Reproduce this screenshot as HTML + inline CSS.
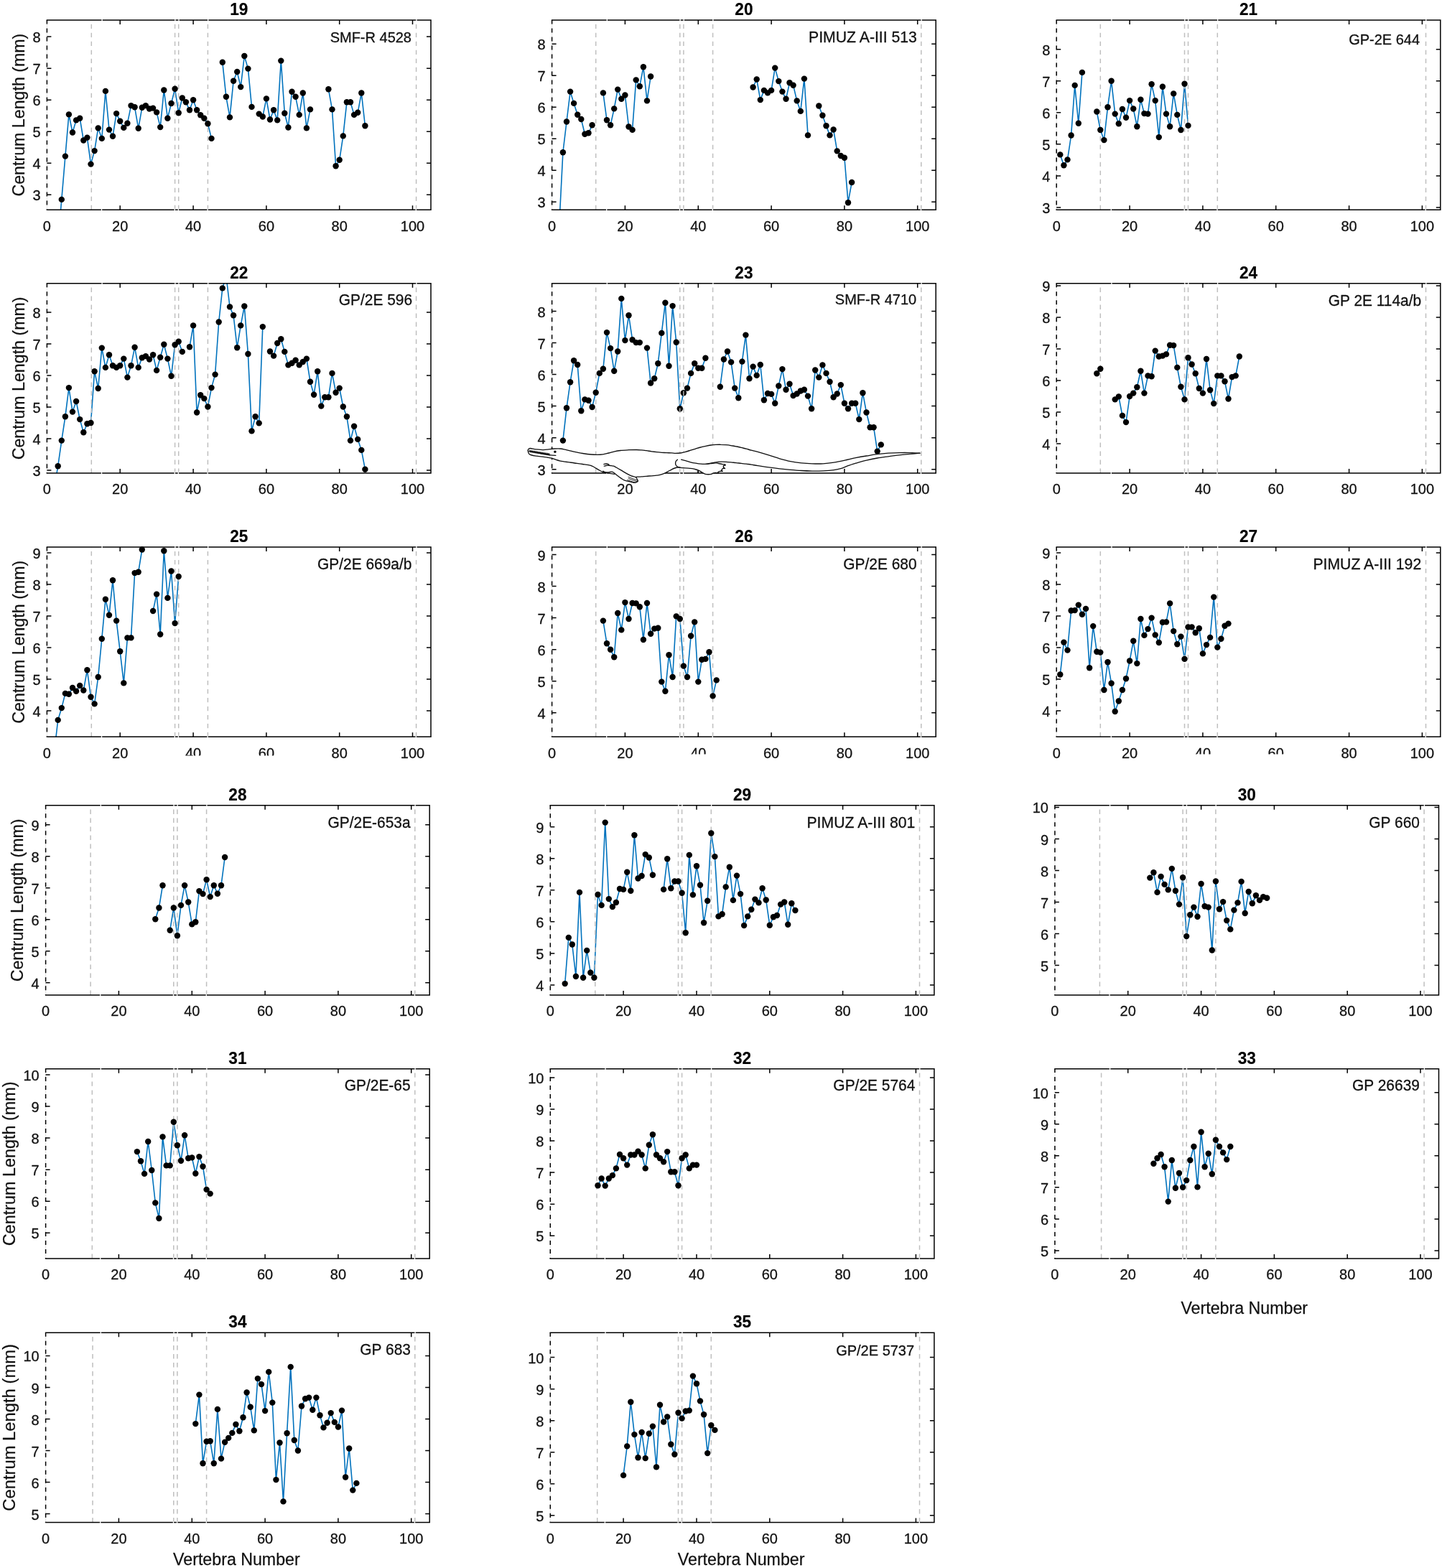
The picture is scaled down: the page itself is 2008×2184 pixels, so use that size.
<!DOCTYPE html>
<html lang="en"><head><meta charset="utf-8"><title>Centrum length per vertebra</title>
<style>html,body{margin:0;padding:0;background:#fff}body{width:2008px;height:2184px;overflow:hidden}svg{display:block}text{font-family:"Liberation Sans",Arial,Helvetica,sans-serif;fill:#111;stroke:#111;stroke-width:0.3px;stroke-linejoin:round}.t{font-size:20.8px}.tt{font-size:23.5px;font-weight:bold;fill:#000;stroke:#000;stroke-width:0.2px}.l{font-size:24.13px;stroke-width:0.25px}.d{fill:none;stroke:#0072BD;stroke-width:1.6;stroke-linejoin:round}.g{fill:none;stroke:#bfbfbf;stroke-width:1.5;stroke-dasharray:6.3 5.7;stroke-dashoffset:6.2}.a{fill:none;stroke:#000;stroke-width:1.5}.ad{fill:none;stroke:#000;stroke-width:1.5;stroke-dasharray:6 6;stroke-dashoffset:0.6}.n{fill:none;stroke:#fff;stroke-width:1.3}.m{fill:#000}</style></head><body>
<svg width="2008" height="2184" viewBox="0 0 2008 2184" role="img" aria-label="Centrum length against vertebra number for specimens 19 to 35">
<rect width="2008" height="2184" fill="#fff"/>
<clipPath id="c19"><rect x="65.4" y="28" width="534.6" height="264.2"/></clipPath><g clip-path="url(#c19)"><path class="d" d="M80.7 337.3L85.8 277.9L90.9 217.6L95.9 159.4L101 184.5L106.1 167.4L111.2 164.7L116.3 195.5L121.4 191.6L126.5 228.6L131.6 210.1L136.7 178.4L141.8 192.9L146.9 126.9L152 180.6L157 189.8L162.1 158.1L167.2 168.7L172.3 177.9L177.4 171.8L182.5 147.1L187.6 149.3L192.7 178.8L197.8 149.8L202.9 147.1L208 151.5L213.1 150.6L218.1 156.4L223.2 177.1L228.3 125.5L233.4 164.7L238.5 144L243.6 123.8L248.7 157.2L253.8 136.5L258.9 142.3L264 153.3L269.1 139.2L274.1 153.3L279.2 160.3L284.3 164.7L289.4 172.2L294.5 192.9M309.8 86.8L314.9 134.8L320 163.4L325.1 112.8L330.2 100L335.2 121.1L340.3 78L345.4 95.6L350.5 148.9M360.7 158.6L365.8 162.5L370.9 137.4L376 166.5L381.1 153.3L386.2 167.4L391.3 84.6L396.3 157.7L401.4 177.5L406.5 127.7L411.6 134.8L416.7 159.9L421.8 129.5L426.9 178.4L432 152.4M457.4 124.2L462.5 152.4L467.6 231.2L472.7 222.8L477.8 189.4L482.9 142.3L488 142.3L493.1 159.9L498.2 156.8L503.3 129.5L508.4 175.3"/></g><path class="g" d="M127.3 28V292.2M243.6 28V292.2M248.7 28V292.2M289.4 28V292.2M579.6 28V292.2"/><g class="m"><circle cx="85.8" cy="277.9" r="4.2"/><circle cx="90.9" cy="217.6" r="4.2"/><circle cx="95.9" cy="159.4" r="4.2"/><circle cx="101" cy="184.5" r="4.2"/><circle cx="106.1" cy="167.4" r="4.2"/><circle cx="111.2" cy="164.7" r="4.2"/><circle cx="116.3" cy="195.5" r="4.2"/><circle cx="121.4" cy="191.6" r="4.2"/><circle cx="126.5" cy="228.6" r="4.2"/><circle cx="131.6" cy="210.1" r="4.2"/><circle cx="136.7" cy="178.4" r="4.2"/><circle cx="141.8" cy="192.9" r="4.2"/><circle cx="146.9" cy="126.9" r="4.2"/><circle cx="152" cy="180.6" r="4.2"/><circle cx="157" cy="189.8" r="4.2"/><circle cx="162.1" cy="158.1" r="4.2"/><circle cx="167.2" cy="168.7" r="4.2"/><circle cx="172.3" cy="177.9" r="4.2"/><circle cx="177.4" cy="171.8" r="4.2"/><circle cx="182.5" cy="147.1" r="4.2"/><circle cx="187.6" cy="149.3" r="4.2"/><circle cx="192.7" cy="178.8" r="4.2"/><circle cx="197.8" cy="149.8" r="4.2"/><circle cx="202.9" cy="147.1" r="4.2"/><circle cx="208" cy="151.5" r="4.2"/><circle cx="213.1" cy="150.6" r="4.2"/><circle cx="218.1" cy="156.4" r="4.2"/><circle cx="223.2" cy="177.1" r="4.2"/><circle cx="228.3" cy="125.5" r="4.2"/><circle cx="233.4" cy="164.7" r="4.2"/><circle cx="238.5" cy="144" r="4.2"/><circle cx="243.6" cy="123.8" r="4.2"/><circle cx="248.7" cy="157.2" r="4.2"/><circle cx="253.8" cy="136.5" r="4.2"/><circle cx="258.9" cy="142.3" r="4.2"/><circle cx="264" cy="153.3" r="4.2"/><circle cx="269.1" cy="139.2" r="4.2"/><circle cx="274.1" cy="153.3" r="4.2"/><circle cx="279.2" cy="160.3" r="4.2"/><circle cx="284.3" cy="164.7" r="4.2"/><circle cx="289.4" cy="172.2" r="4.2"/><circle cx="294.5" cy="192.9" r="4.2"/><circle cx="309.8" cy="86.8" r="4.2"/><circle cx="314.9" cy="134.8" r="4.2"/><circle cx="320" cy="163.4" r="4.2"/><circle cx="325.1" cy="112.8" r="4.2"/><circle cx="330.2" cy="100" r="4.2"/><circle cx="335.2" cy="121.1" r="4.2"/><circle cx="340.3" cy="78" r="4.2"/><circle cx="345.4" cy="95.6" r="4.2"/><circle cx="350.5" cy="148.9" r="4.2"/><circle cx="360.7" cy="158.6" r="4.2"/><circle cx="365.8" cy="162.5" r="4.2"/><circle cx="370.9" cy="137.4" r="4.2"/><circle cx="376" cy="166.5" r="4.2"/><circle cx="381.1" cy="153.3" r="4.2"/><circle cx="386.2" cy="167.4" r="4.2"/><circle cx="391.3" cy="84.6" r="4.2"/><circle cx="396.3" cy="157.7" r="4.2"/><circle cx="401.4" cy="177.5" r="4.2"/><circle cx="406.5" cy="127.7" r="4.2"/><circle cx="411.6" cy="134.8" r="4.2"/><circle cx="416.7" cy="159.9" r="4.2"/><circle cx="421.8" cy="129.5" r="4.2"/><circle cx="426.9" cy="178.4" r="4.2"/><circle cx="432" cy="152.4" r="4.2"/><circle cx="457.4" cy="124.2" r="4.2"/><circle cx="462.5" cy="152.4" r="4.2"/><circle cx="467.6" cy="231.2" r="4.2"/><circle cx="472.7" cy="222.8" r="4.2"/><circle cx="477.8" cy="189.4" r="4.2"/><circle cx="482.9" cy="142.3" r="4.2"/><circle cx="488" cy="142.3" r="4.2"/><circle cx="493.1" cy="159.9" r="4.2"/><circle cx="498.2" cy="156.8" r="4.2"/><circle cx="503.3" cy="129.5" r="4.2"/><circle cx="508.4" cy="175.3" r="4.2"/></g><path class="a" d="M64.7 28H600V292.2H64.7"/><path d="M65.4 28V292.2" stroke="#ccc" stroke-width="0.5" fill="none"/><path class="ad" d="M65.4 28V292.2"/><path class="a" d="M167.2 292.2v-6M167.2 28v6M269.1 292.2v-6M269.1 28v6M370.9 292.2v-6M370.9 28v6M472.7 292.2v-6M472.7 28v6M574.5 292.2v-6M574.5 28v6M65.4 271.3h6M600 271.3h-6M65.4 227.3h6M600 227.3h-6M65.4 183.2h6M600 183.2h-6M65.4 139.2h6M600 139.2h-6M65.4 95.2h6M600 95.2h-6M65.4 51.1h6M600 51.1h-6"/><path class="n" d="M142.1 26.4v3.2M141.5 290.6v3.2M243.9 26.4v3.2M243.3 290.6v3.2M249 26.4v3.2M248.4 290.6v3.2M289.7 26.4v3.2M289.1 290.6v3.2M579.9 26.4v3.2M579.3 290.6v3.2"/><text class="t" transform="translate(65.4 321.5) scale(0.962 1)" text-anchor="middle">0</text><text class="t" transform="translate(167.2 321.5) scale(0.962 1)" text-anchor="middle">20</text><text class="t" transform="translate(269.1 321.5) scale(0.962 1)" text-anchor="middle">40</text><text class="t" transform="translate(370.9 321.5) scale(0.962 1)" text-anchor="middle">60</text><text class="t" transform="translate(472.7 321.5) scale(0.962 1)" text-anchor="middle">80</text><text class="t" transform="translate(574.5 321.5) scale(0.962 1)" text-anchor="middle">100</text><text class="t" transform="translate(56.5 279.3) scale(0.962 1)" text-anchor="end">3</text><text class="t" transform="translate(56.5 235.3) scale(0.962 1)" text-anchor="end">4</text><text class="t" transform="translate(56.5 191.2) scale(0.962 1)" text-anchor="end">5</text><text class="t" transform="translate(56.5 147.2) scale(0.962 1)" text-anchor="end">6</text><text class="t" transform="translate(56.5 103.2) scale(0.962 1)" text-anchor="end">7</text><text class="t" transform="translate(56.5 59.1) scale(0.962 1)" text-anchor="end">8</text><text class="tt" transform="translate(332.7 20.8) scale(0.962 1)" text-anchor="middle">19</text><text class="t" transform="translate(573 59) scale(0.962 1)" text-anchor="end">SMF-R 4528</text><text class="l" transform="translate(34.3 160.1) rotate(-90) scale(0.962 1)" text-anchor="middle">Centrum Length (mm)</text>
<clipPath id="c20"><rect x="768.6" y="28" width="534.6" height="264.2"/></clipPath><g clip-path="url(#c20)"><path class="d" d="M778.8 312.1L783.9 212.2L789 169.5L794.1 127.6L799.1 143.9L804.2 159.8L809.3 166L814.4 186.7L819.5 185.3L824.6 174.3M839.9 129.4L845 167.3L850.1 174.3L855.2 151.4L860.2 124.6L865.3 137.8L870.4 132.5L875.5 176.5L880.6 180.9L885.7 111.4L890.8 120.2L895.9 93.3L901 140.4L906.1 106.5M1048.6 121.5L1053.7 110.5L1058.8 139.1L1063.9 125.9L1069 129.4L1074.1 125.9L1079.2 94.6L1084.3 113.1L1089.4 127.6L1094.5 137.8L1099.5 115.3L1104.6 118.8L1109.7 140.4L1114.8 154.9L1119.9 109.6L1125 188.4M1140.3 147.5L1145.4 160.7L1150.5 175.2L1155.5 188.4L1160.6 180.5L1165.7 210.4L1170.8 217L1175.9 219.7L1181 282.2L1186.1 254"/></g><path class="g" d="M829.7 28V292.2M946.8 28V292.2M951.9 28V292.2M992.6 28V292.2M1282.8 28V292.2"/><g class="m"><circle cx="783.9" cy="212.2" r="4.2"/><circle cx="789" cy="169.5" r="4.2"/><circle cx="794.1" cy="127.6" r="4.2"/><circle cx="799.1" cy="143.9" r="4.2"/><circle cx="804.2" cy="159.8" r="4.2"/><circle cx="809.3" cy="166" r="4.2"/><circle cx="814.4" cy="186.7" r="4.2"/><circle cx="819.5" cy="185.3" r="4.2"/><circle cx="824.6" cy="174.3" r="4.2"/><circle cx="839.9" cy="129.4" r="4.2"/><circle cx="845" cy="167.3" r="4.2"/><circle cx="850.1" cy="174.3" r="4.2"/><circle cx="855.2" cy="151.4" r="4.2"/><circle cx="860.2" cy="124.6" r="4.2"/><circle cx="865.3" cy="137.8" r="4.2"/><circle cx="870.4" cy="132.5" r="4.2"/><circle cx="875.5" cy="176.5" r="4.2"/><circle cx="880.6" cy="180.9" r="4.2"/><circle cx="885.7" cy="111.4" r="4.2"/><circle cx="890.8" cy="120.2" r="4.2"/><circle cx="895.9" cy="93.3" r="4.2"/><circle cx="901" cy="140.4" r="4.2"/><circle cx="906.1" cy="106.5" r="4.2"/><circle cx="1048.6" cy="121.5" r="4.2"/><circle cx="1053.7" cy="110.5" r="4.2"/><circle cx="1058.8" cy="139.1" r="4.2"/><circle cx="1063.9" cy="125.9" r="4.2"/><circle cx="1069" cy="129.4" r="4.2"/><circle cx="1074.1" cy="125.9" r="4.2"/><circle cx="1079.2" cy="94.6" r="4.2"/><circle cx="1084.3" cy="113.1" r="4.2"/><circle cx="1089.4" cy="127.6" r="4.2"/><circle cx="1094.5" cy="137.8" r="4.2"/><circle cx="1099.5" cy="115.3" r="4.2"/><circle cx="1104.6" cy="118.8" r="4.2"/><circle cx="1109.7" cy="140.4" r="4.2"/><circle cx="1114.8" cy="154.9" r="4.2"/><circle cx="1119.9" cy="109.6" r="4.2"/><circle cx="1125" cy="188.4" r="4.2"/><circle cx="1140.3" cy="147.5" r="4.2"/><circle cx="1145.4" cy="160.7" r="4.2"/><circle cx="1150.5" cy="175.2" r="4.2"/><circle cx="1155.5" cy="188.4" r="4.2"/><circle cx="1160.6" cy="180.5" r="4.2"/><circle cx="1165.7" cy="210.4" r="4.2"/><circle cx="1170.8" cy="217" r="4.2"/><circle cx="1175.9" cy="219.7" r="4.2"/><circle cx="1181" cy="282.2" r="4.2"/><circle cx="1186.1" cy="254" r="4.2"/></g><path class="a" d="M767.9 28H1303.2V292.2H767.9"/><path d="M768.6 28V292.2" stroke="#ccc" stroke-width="0.5" fill="none"/><path class="ad" d="M768.6 28V292.2"/><path class="a" d="M870.4 292.2v-6M870.4 28v6M972.3 292.2v-6M972.3 28v6M1074.1 292.2v-6M1074.1 28v6M1175.9 292.2v-6M1175.9 28v6M1277.7 292.2v-6M1277.7 28v6M768.6 281.3h6M1303.2 281.3h-6M768.6 237.3h6M1303.2 237.3h-6M768.6 193.3h6M1303.2 193.3h-6M768.6 149.2h6M1303.2 149.2h-6M768.6 105.2h6M1303.2 105.2h-6M768.6 61.2h6M1303.2 61.2h-6"/><path class="n" d="M845.3 26.4v3.2M844.7 290.6v3.2M947.1 26.4v3.2M946.5 290.6v3.2M952.2 26.4v3.2M951.6 290.6v3.2M992.9 26.4v3.2M992.3 290.6v3.2M1283.1 26.4v3.2M1282.5 290.6v3.2"/><text class="t" transform="translate(768.6 321.5) scale(0.962 1)" text-anchor="middle">0</text><text class="t" transform="translate(870.4 321.5) scale(0.962 1)" text-anchor="middle">20</text><text class="t" transform="translate(972.3 321.5) scale(0.962 1)" text-anchor="middle">40</text><text class="t" transform="translate(1074.1 321.5) scale(0.962 1)" text-anchor="middle">60</text><text class="t" transform="translate(1175.9 321.5) scale(0.962 1)" text-anchor="middle">80</text><text class="t" transform="translate(1277.7 321.5) scale(0.962 1)" text-anchor="middle">100</text><text class="t" transform="translate(759.7 289.3) scale(0.962 1)" text-anchor="end">3</text><text class="t" transform="translate(759.7 245.3) scale(0.962 1)" text-anchor="end">4</text><text class="t" transform="translate(759.7 201.3) scale(0.962 1)" text-anchor="end">5</text><text class="t" transform="translate(759.7 157.2) scale(0.962 1)" text-anchor="end">6</text><text class="t" transform="translate(759.7 113.2) scale(0.962 1)" text-anchor="end">7</text><text class="t" transform="translate(759.7 69.2) scale(0.962 1)" text-anchor="end">8</text><text class="tt" transform="translate(1035.9 20.8) scale(0.962 1)" text-anchor="middle">20</text><text class="t" style="font-size:22.05px" transform="translate(1276.9 58.7) scale(0.962 1)" text-anchor="end">PIMUZ A-III 513</text>
<clipPath id="c21"><rect x="1471.2" y="28" width="534.6" height="264.2"/></clipPath><g clip-path="url(#c21)"><path class="d" d="M1476.3 215.4L1481.4 230.3L1486.5 222.4L1491.6 188.5L1496.7 118.9L1501.8 171.8L1506.9 100.9M1527.3 155.5L1532.3 181L1537.4 195.1L1542.5 149.3L1547.6 112.8L1552.7 158.6L1557.8 172.2L1562.9 152L1568 163.8L1573.1 140.1L1578.2 151.5L1583.3 176.2L1588.4 138.7L1593.4 158.1L1598.5 158.6L1603.6 117.2L1608.7 140.1L1613.8 191.1L1618.9 120.7L1624 158.6L1629.1 176.2L1634.2 130.4L1639.3 159.9L1644.4 181L1649.5 116.7L1654.5 174.9"/></g><path class="g" d="M1532.3 28V292.2M1649.5 28V292.2M1654.5 28V292.2M1695.3 28V292.2M1985.5 28V292.2"/><g class="m"><circle cx="1476.3" cy="215.4" r="4.2"/><circle cx="1481.4" cy="230.3" r="4.2"/><circle cx="1486.5" cy="222.4" r="4.2"/><circle cx="1491.6" cy="188.5" r="4.2"/><circle cx="1496.7" cy="118.9" r="4.2"/><circle cx="1501.8" cy="171.8" r="4.2"/><circle cx="1506.9" cy="100.9" r="4.2"/><circle cx="1527.3" cy="155.5" r="4.2"/><circle cx="1532.3" cy="181" r="4.2"/><circle cx="1537.4" cy="195.1" r="4.2"/><circle cx="1542.5" cy="149.3" r="4.2"/><circle cx="1547.6" cy="112.8" r="4.2"/><circle cx="1552.7" cy="158.6" r="4.2"/><circle cx="1557.8" cy="172.2" r="4.2"/><circle cx="1562.9" cy="152" r="4.2"/><circle cx="1568" cy="163.8" r="4.2"/><circle cx="1573.1" cy="140.1" r="4.2"/><circle cx="1578.2" cy="151.5" r="4.2"/><circle cx="1583.3" cy="176.2" r="4.2"/><circle cx="1588.4" cy="138.7" r="4.2"/><circle cx="1593.4" cy="158.1" r="4.2"/><circle cx="1598.5" cy="158.6" r="4.2"/><circle cx="1603.6" cy="117.2" r="4.2"/><circle cx="1608.7" cy="140.1" r="4.2"/><circle cx="1613.8" cy="191.1" r="4.2"/><circle cx="1618.9" cy="120.7" r="4.2"/><circle cx="1624" cy="158.6" r="4.2"/><circle cx="1629.1" cy="176.2" r="4.2"/><circle cx="1634.2" cy="130.4" r="4.2"/><circle cx="1639.3" cy="159.9" r="4.2"/><circle cx="1644.4" cy="181" r="4.2"/><circle cx="1649.5" cy="116.7" r="4.2"/><circle cx="1654.5" cy="174.9" r="4.2"/></g><path class="a" d="M1470.5 28H2005.8V292.2H1470.5"/><path d="M1471.2 28V292.2" stroke="#ccc" stroke-width="0.5" fill="none"/><path class="ad" d="M1471.2 28V292.2"/><path class="a" d="M1573.1 292.2v-6M1573.1 28v6M1674.9 292.2v-6M1674.9 28v6M1776.7 292.2v-6M1776.7 28v6M1878.6 292.2v-6M1878.6 28v6M1980.4 292.2v-6M1980.4 28v6M1471.2 288.9h6M2005.8 288.9h-6M1471.2 244.9h6M2005.8 244.9h-6M1471.2 200.8h6M2005.8 200.8h-6M1471.2 156.8h6M2005.8 156.8h-6M1471.2 112.8h6M2005.8 112.8h-6M1471.2 68.7h6M2005.8 68.7h-6"/><path class="n" d="M1547.9 26.4v3.2M1547.3 290.6v3.2M1649.8 26.4v3.2M1649.2 290.6v3.2M1654.8 26.4v3.2M1654.2 290.6v3.2M1695.6 26.4v3.2M1695 290.6v3.2M1985.8 26.4v3.2M1985.2 290.6v3.2"/><text class="t" transform="translate(1471.2 321.5) scale(0.962 1)" text-anchor="middle">0</text><text class="t" transform="translate(1573.1 321.5) scale(0.962 1)" text-anchor="middle">20</text><text class="t" transform="translate(1674.9 321.5) scale(0.962 1)" text-anchor="middle">40</text><text class="t" transform="translate(1776.7 321.5) scale(0.962 1)" text-anchor="middle">60</text><text class="t" transform="translate(1878.6 321.5) scale(0.962 1)" text-anchor="middle">80</text><text class="t" transform="translate(1980.4 321.5) scale(0.962 1)" text-anchor="middle">100</text><text class="t" transform="translate(1462.3 296.9) scale(0.962 1)" text-anchor="end">3</text><text class="t" transform="translate(1462.3 252.9) scale(0.962 1)" text-anchor="end">4</text><text class="t" transform="translate(1462.3 208.8) scale(0.962 1)" text-anchor="end">5</text><text class="t" transform="translate(1462.3 164.8) scale(0.962 1)" text-anchor="end">6</text><text class="t" transform="translate(1462.3 120.8) scale(0.962 1)" text-anchor="end">7</text><text class="t" transform="translate(1462.3 76.7) scale(0.962 1)" text-anchor="end">8</text><text class="tt" transform="translate(1738.5 20.8) scale(0.962 1)" text-anchor="middle">21</text><text class="t" transform="translate(1977.1 62.2) scale(0.962 1)" text-anchor="end">GP-2E 644</text>
<clipPath id="c22"><rect x="65.4" y="394.8" width="534.6" height="264.2"/></clipPath><g clip-path="url(#c22)"><path class="d" d="M75.6 679.3L80.7 649.3L85.8 613.6L90.9 580.2L95.9 540.1L101 573.6L106.1 559L111.2 584.1L116.3 602.2L121.4 590.3L126.5 589L131.6 517.2L136.7 541L141.8 484.6L146.9 511.9L152 494.3L157 509.3L162.1 511.9L167.2 509.3L172.3 499.6L177.4 525.6L182.5 509.3L187.6 483.7L192.7 511.9L197.8 498.3L202.9 496.1L208 500.5L213.1 494.3L218.1 515.9L223.2 497.8L228.3 479.8L233.4 499.6L238.5 523.8L243.6 480.2L248.7 475.8L253.8 489.9M264 483.3L269.1 453.4L274.1 574.5L279.2 550.2L284.3 555.1L289.4 566.5L294.5 540.1L299.6 521.6L304.7 448.5L309.8 401.4L314.9 384.2L320 427.4L325.1 439.3L330.2 484.2L335.2 453.4L340.3 426.5L345.4 493L350.5 600.4L355.6 580.2L360.7 589.4L365.8 455.1M376 489.5L381.1 495.6L386.2 478L391.3 472.3L396.3 489.9L401.4 508.4L406.5 505.8L411.6 501.8L416.7 508.4L421.8 504L426.9 499.6L432 531.7L437.1 549.8L442.2 517.2L447.3 565.6L452.3 553.3L457.4 553.3L462.5 519.9L467.6 546.7L472.7 540.6L477.8 566.5L482.9 580.2L488 613.6L493.1 593.8L498.2 611.9L503.3 626.9L508.4 653.7"/></g><path class="g" d="M127.3 394.8V659M243.6 394.8V659M248.7 394.8V659M289.4 394.8V659M579.6 394.8V659"/><g class="m"><circle cx="80.7" cy="649.3" r="4.2"/><circle cx="85.8" cy="613.6" r="4.2"/><circle cx="90.9" cy="580.2" r="4.2"/><circle cx="95.9" cy="540.1" r="4.2"/><circle cx="101" cy="573.6" r="4.2"/><circle cx="106.1" cy="559" r="4.2"/><circle cx="111.2" cy="584.1" r="4.2"/><circle cx="116.3" cy="602.2" r="4.2"/><circle cx="121.4" cy="590.3" r="4.2"/><circle cx="126.5" cy="589" r="4.2"/><circle cx="131.6" cy="517.2" r="4.2"/><circle cx="136.7" cy="541" r="4.2"/><circle cx="141.8" cy="484.6" r="4.2"/><circle cx="146.9" cy="511.9" r="4.2"/><circle cx="152" cy="494.3" r="4.2"/><circle cx="157" cy="509.3" r="4.2"/><circle cx="162.1" cy="511.9" r="4.2"/><circle cx="167.2" cy="509.3" r="4.2"/><circle cx="172.3" cy="499.6" r="4.2"/><circle cx="177.4" cy="525.6" r="4.2"/><circle cx="182.5" cy="509.3" r="4.2"/><circle cx="187.6" cy="483.7" r="4.2"/><circle cx="192.7" cy="511.9" r="4.2"/><circle cx="197.8" cy="498.3" r="4.2"/><circle cx="202.9" cy="496.1" r="4.2"/><circle cx="208" cy="500.5" r="4.2"/><circle cx="213.1" cy="494.3" r="4.2"/><circle cx="218.1" cy="515.9" r="4.2"/><circle cx="223.2" cy="497.8" r="4.2"/><circle cx="228.3" cy="479.8" r="4.2"/><circle cx="233.4" cy="499.6" r="4.2"/><circle cx="238.5" cy="523.8" r="4.2"/><circle cx="243.6" cy="480.2" r="4.2"/><circle cx="248.7" cy="475.8" r="4.2"/><circle cx="253.8" cy="489.9" r="4.2"/><circle cx="264" cy="483.3" r="4.2"/><circle cx="269.1" cy="453.4" r="4.2"/><circle cx="274.1" cy="574.5" r="4.2"/><circle cx="279.2" cy="550.2" r="4.2"/><circle cx="284.3" cy="555.1" r="4.2"/><circle cx="289.4" cy="566.5" r="4.2"/><circle cx="294.5" cy="540.1" r="4.2"/><circle cx="299.6" cy="521.6" r="4.2"/><circle cx="304.7" cy="448.5" r="4.2"/><circle cx="309.8" cy="401.4" r="4.2"/><circle cx="320" cy="427.4" r="4.2"/><circle cx="325.1" cy="439.3" r="4.2"/><circle cx="330.2" cy="484.2" r="4.2"/><circle cx="335.2" cy="453.4" r="4.2"/><circle cx="340.3" cy="426.5" r="4.2"/><circle cx="345.4" cy="493" r="4.2"/><circle cx="350.5" cy="600.4" r="4.2"/><circle cx="355.6" cy="580.2" r="4.2"/><circle cx="360.7" cy="589.4" r="4.2"/><circle cx="365.8" cy="455.1" r="4.2"/><circle cx="376" cy="489.5" r="4.2"/><circle cx="381.1" cy="495.6" r="4.2"/><circle cx="386.2" cy="478" r="4.2"/><circle cx="391.3" cy="472.3" r="4.2"/><circle cx="396.3" cy="489.9" r="4.2"/><circle cx="401.4" cy="508.4" r="4.2"/><circle cx="406.5" cy="505.8" r="4.2"/><circle cx="411.6" cy="501.8" r="4.2"/><circle cx="416.7" cy="508.4" r="4.2"/><circle cx="421.8" cy="504" r="4.2"/><circle cx="426.9" cy="499.6" r="4.2"/><circle cx="432" cy="531.7" r="4.2"/><circle cx="437.1" cy="549.8" r="4.2"/><circle cx="442.2" cy="517.2" r="4.2"/><circle cx="447.3" cy="565.6" r="4.2"/><circle cx="452.3" cy="553.3" r="4.2"/><circle cx="457.4" cy="553.3" r="4.2"/><circle cx="462.5" cy="519.9" r="4.2"/><circle cx="467.6" cy="546.7" r="4.2"/><circle cx="472.7" cy="540.6" r="4.2"/><circle cx="477.8" cy="566.5" r="4.2"/><circle cx="482.9" cy="580.2" r="4.2"/><circle cx="488" cy="613.6" r="4.2"/><circle cx="493.1" cy="593.8" r="4.2"/><circle cx="498.2" cy="611.9" r="4.2"/><circle cx="503.3" cy="626.9" r="4.2"/><circle cx="508.4" cy="653.7" r="4.2"/></g><path class="a" d="M64.7 394.8H600V659H64.7"/><path d="M65.4 394.8V659" stroke="#ccc" stroke-width="0.5" fill="none"/><path class="ad" d="M65.4 394.8V659"/><path class="a" d="M167.2 659v-6M167.2 394.8v6M269.1 659v-6M269.1 394.8v6M370.9 659v-6M370.9 394.8v6M472.7 659v-6M472.7 394.8v6M574.5 659v-6M574.5 394.8v6M65.4 655h6M600 655h-6M65.4 611h6M600 611h-6M65.4 567h6M600 567h-6M65.4 522.9h6M600 522.9h-6M65.4 478.9h6M600 478.9h-6M65.4 434.9h6M600 434.9h-6"/><path class="n" d="M142.1 393.2v3.2M141.5 657.4v3.2M243.9 393.2v3.2M243.3 657.4v3.2M249 393.2v3.2M248.4 657.4v3.2M289.7 393.2v3.2M289.1 657.4v3.2M579.9 393.2v3.2M579.3 657.4v3.2"/><text class="t" transform="translate(65.4 688.3) scale(0.962 1)" text-anchor="middle">0</text><text class="t" transform="translate(167.2 688.3) scale(0.962 1)" text-anchor="middle">20</text><text class="t" transform="translate(269.1 688.3) scale(0.962 1)" text-anchor="middle">40</text><text class="t" transform="translate(370.9 688.3) scale(0.962 1)" text-anchor="middle">60</text><text class="t" transform="translate(472.7 688.3) scale(0.962 1)" text-anchor="middle">80</text><text class="t" transform="translate(574.5 688.3) scale(0.962 1)" text-anchor="middle">100</text><text class="t" transform="translate(56.5 663) scale(0.962 1)" text-anchor="end">3</text><text class="t" transform="translate(56.5 619) scale(0.962 1)" text-anchor="end">4</text><text class="t" transform="translate(56.5 575) scale(0.962 1)" text-anchor="end">5</text><text class="t" transform="translate(56.5 530.9) scale(0.962 1)" text-anchor="end">6</text><text class="t" transform="translate(56.5 486.9) scale(0.962 1)" text-anchor="end">7</text><text class="t" transform="translate(56.5 442.9) scale(0.962 1)" text-anchor="end">8</text><text class="tt" transform="translate(332.7 387.6) scale(0.962 1)" text-anchor="middle">22</text><text class="t" style="font-size:21.74px" transform="translate(574.1 425.4) scale(0.962 1)" text-anchor="end">GP/2E 596</text><text class="l" transform="translate(34.3 526.9) rotate(-90) scale(0.962 1)" text-anchor="middle">Centrum Length (mm)</text>
<clipPath id="c23"><rect x="768.6" y="394.8" width="534.6" height="264.2"/></clipPath><g clip-path="url(#c23)"><path class="d" d="M783.9 613.6L789 568.3L794.1 532.2L799.1 502.2L804.2 508L809.3 572.3L814.4 556.4L819.5 557.7L824.6 567L829.7 546.7L834.8 519.9L839.9 513.7L845 463.1L850.1 485.1L855.2 516.8L860.2 489.5L865.3 415.9L870.4 474.1L875.5 439.3L880.6 473.2L885.7 477.1L890.8 477.1M901 484.6L906.1 533.5L911.2 527.3L916.3 506.2L921.3 463.9L926.4 421.7L931.5 509.7L936.6 426.1L941.7 476.7L946.8 569.2L951.9 547.2L957 540.6L962.1 519.9L967.2 506.2L972.3 512.8L977.3 512.8L982.4 498.7M1002.8 538.8L1007.9 500.5L1013 489.5L1018.1 504.4L1023.2 540.6L1028.3 554.2L1033.4 503.6L1038.4 466.6L1043.5 527.3L1048.6 510.6L1053.7 522.9L1058.8 508L1063.9 557.3L1069 548L1074.1 548.9L1079.2 561.7L1084.3 537.5L1089.4 514.1L1094.5 542.8L1099.5 534.8L1104.6 551.1L1109.7 548.5L1114.8 544.5L1119.9 542.8L1125 551.6L1130.1 569.2L1135.2 515.5L1140.3 525.6L1145.4 508.4L1150.5 519.9L1155.5 531.7L1160.6 553.3L1165.7 548.5L1170.8 536.1L1175.9 561.7L1181 569.2L1186.1 561.7L1191.2 561.7L1196.3 584.1L1201.4 547.2L1206.5 574.5L1211.6 595.2L1216.6 595.2L1221.7 628.6L1226.8 619.4"/></g><path class="g" d="M829.7 394.8V659M946.8 394.8V659M951.9 394.8V659M992.6 394.8V659M1282.8 394.8V659"/><g class="m"><circle cx="783.9" cy="613.6" r="4.2"/><circle cx="789" cy="568.3" r="4.2"/><circle cx="794.1" cy="532.2" r="4.2"/><circle cx="799.1" cy="502.2" r="4.2"/><circle cx="804.2" cy="508" r="4.2"/><circle cx="809.3" cy="572.3" r="4.2"/><circle cx="814.4" cy="556.4" r="4.2"/><circle cx="819.5" cy="557.7" r="4.2"/><circle cx="824.6" cy="567" r="4.2"/><circle cx="829.7" cy="546.7" r="4.2"/><circle cx="834.8" cy="519.9" r="4.2"/><circle cx="839.9" cy="513.7" r="4.2"/><circle cx="845" cy="463.1" r="4.2"/><circle cx="850.1" cy="485.1" r="4.2"/><circle cx="855.2" cy="516.8" r="4.2"/><circle cx="860.2" cy="489.5" r="4.2"/><circle cx="865.3" cy="415.9" r="4.2"/><circle cx="870.4" cy="474.1" r="4.2"/><circle cx="875.5" cy="439.3" r="4.2"/><circle cx="880.6" cy="473.2" r="4.2"/><circle cx="885.7" cy="477.1" r="4.2"/><circle cx="890.8" cy="477.1" r="4.2"/><circle cx="901" cy="484.6" r="4.2"/><circle cx="906.1" cy="533.5" r="4.2"/><circle cx="911.2" cy="527.3" r="4.2"/><circle cx="916.3" cy="506.2" r="4.2"/><circle cx="921.3" cy="463.9" r="4.2"/><circle cx="926.4" cy="421.7" r="4.2"/><circle cx="931.5" cy="509.7" r="4.2"/><circle cx="936.6" cy="426.1" r="4.2"/><circle cx="941.7" cy="476.7" r="4.2"/><circle cx="946.8" cy="569.2" r="4.2"/><circle cx="951.9" cy="547.2" r="4.2"/><circle cx="957" cy="540.6" r="4.2"/><circle cx="962.1" cy="519.9" r="4.2"/><circle cx="967.2" cy="506.2" r="4.2"/><circle cx="972.3" cy="512.8" r="4.2"/><circle cx="977.3" cy="512.8" r="4.2"/><circle cx="982.4" cy="498.7" r="4.2"/><circle cx="1002.8" cy="538.8" r="4.2"/><circle cx="1007.9" cy="500.5" r="4.2"/><circle cx="1013" cy="489.5" r="4.2"/><circle cx="1018.1" cy="504.4" r="4.2"/><circle cx="1023.2" cy="540.6" r="4.2"/><circle cx="1028.3" cy="554.2" r="4.2"/><circle cx="1033.4" cy="503.6" r="4.2"/><circle cx="1038.4" cy="466.6" r="4.2"/><circle cx="1043.5" cy="527.3" r="4.2"/><circle cx="1048.6" cy="510.6" r="4.2"/><circle cx="1053.7" cy="522.9" r="4.2"/><circle cx="1058.8" cy="508" r="4.2"/><circle cx="1063.9" cy="557.3" r="4.2"/><circle cx="1069" cy="548" r="4.2"/><circle cx="1074.1" cy="548.9" r="4.2"/><circle cx="1079.2" cy="561.7" r="4.2"/><circle cx="1084.3" cy="537.5" r="4.2"/><circle cx="1089.4" cy="514.1" r="4.2"/><circle cx="1094.5" cy="542.8" r="4.2"/><circle cx="1099.5" cy="534.8" r="4.2"/><circle cx="1104.6" cy="551.1" r="4.2"/><circle cx="1109.7" cy="548.5" r="4.2"/><circle cx="1114.8" cy="544.5" r="4.2"/><circle cx="1119.9" cy="542.8" r="4.2"/><circle cx="1125" cy="551.6" r="4.2"/><circle cx="1130.1" cy="569.2" r="4.2"/><circle cx="1135.2" cy="515.5" r="4.2"/><circle cx="1140.3" cy="525.6" r="4.2"/><circle cx="1145.4" cy="508.4" r="4.2"/><circle cx="1150.5" cy="519.9" r="4.2"/><circle cx="1155.5" cy="531.7" r="4.2"/><circle cx="1160.6" cy="553.3" r="4.2"/><circle cx="1165.7" cy="548.5" r="4.2"/><circle cx="1170.8" cy="536.1" r="4.2"/><circle cx="1175.9" cy="561.7" r="4.2"/><circle cx="1181" cy="569.2" r="4.2"/><circle cx="1186.1" cy="561.7" r="4.2"/><circle cx="1191.2" cy="561.7" r="4.2"/><circle cx="1196.3" cy="584.1" r="4.2"/><circle cx="1201.4" cy="547.2" r="4.2"/><circle cx="1206.5" cy="574.5" r="4.2"/><circle cx="1211.6" cy="595.2" r="4.2"/><circle cx="1216.6" cy="595.2" r="4.2"/><circle cx="1221.7" cy="628.6" r="4.2"/><circle cx="1226.8" cy="619.4" r="4.2"/></g><path d="M946.8 568.6V573M951.9 544.6V550.9" stroke="#f0f0f0" stroke-width="1.1" fill="none"/><path class="a" d="M767.9 394.8H1303.2V659H767.9"/><path d="M768.6 394.8V659" stroke="#ccc" stroke-width="0.5" fill="none"/><path class="ad" d="M768.6 394.8V659"/><path class="a" d="M870.4 659v-6M870.4 394.8v6M972.3 659v-6M972.3 394.8v6M1074.1 659v-6M1074.1 394.8v6M1175.9 659v-6M1175.9 394.8v6M1277.7 659v-6M1277.7 394.8v6M768.6 653.7h6M1303.2 653.7h-6M768.6 609.7h6M1303.2 609.7h-6M768.6 565.6h6M1303.2 565.6h-6M768.6 521.6h6M1303.2 521.6h-6M768.6 477.6h6M1303.2 477.6h-6M768.6 433.5h6M1303.2 433.5h-6"/><path class="n" d="M845.3 393.2v3.2M844.7 657.4v3.2M947.1 393.2v3.2M946.5 657.4v3.2M952.2 393.2v3.2M951.6 657.4v3.2M992.9 393.2v3.2M992.3 657.4v3.2M1283.1 393.2v3.2M1282.5 657.4v3.2"/><text class="t" transform="translate(768.6 688.3) scale(0.962 1)" text-anchor="middle">0</text><text class="t" transform="translate(870.4 688.3) scale(0.962 1)" text-anchor="middle">20</text><text class="t" transform="translate(972.3 688.3) scale(0.962 1)" text-anchor="middle">40</text><text class="t" transform="translate(1074.1 688.3) scale(0.962 1)" text-anchor="middle">60</text><text class="t" transform="translate(1175.9 688.3) scale(0.962 1)" text-anchor="middle">80</text><text class="t" transform="translate(1277.7 688.3) scale(0.962 1)" text-anchor="middle">100</text><text class="t" transform="translate(759.7 661.7) scale(0.962 1)" text-anchor="end">3</text><text class="t" transform="translate(759.7 617.7) scale(0.962 1)" text-anchor="end">4</text><text class="t" transform="translate(759.7 573.6) scale(0.962 1)" text-anchor="end">5</text><text class="t" transform="translate(759.7 529.6) scale(0.962 1)" text-anchor="end">6</text><text class="t" transform="translate(759.7 485.6) scale(0.962 1)" text-anchor="end">7</text><text class="t" transform="translate(759.7 441.5) scale(0.962 1)" text-anchor="end">8</text><text class="tt" transform="translate(1035.9 387.6) scale(0.962 1)" text-anchor="middle">23</text><text class="t" transform="translate(1276.2 424.4) scale(0.962 1)" text-anchor="end">SMF-R 4710</text>
<clipPath id="c24"><rect x="1471.2" y="394.8" width="534.6" height="264.2"/></clipPath><g clip-path="url(#c24)"><path class="d" d="M1527.3 520.3L1532.3 513.7M1552.7 556.4L1557.8 552.4L1562.9 578.9L1568 588.1L1573.1 552L1578.2 547.6L1583.3 539.2L1588.4 516.8L1593.4 547.6L1598.5 523.4L1603.6 524.3L1608.7 488.6L1613.8 496.5L1618.9 495.6L1624 493.4L1629.1 480.7L1634.2 481.1L1639.3 511.9L1644.4 538.8L1649.5 556.4L1654.5 498.3L1659.6 507.5L1664.7 520.3L1669.8 541L1674.9 547.6L1680 500L1685.1 543.2L1690.2 562.1L1695.3 523.4L1700.4 523.4L1705.5 531.3L1710.5 555.5L1715.6 525.1L1720.7 523.4L1725.8 496.5"/></g><path class="g" d="M1532.3 394.8V659M1649.5 394.8V659M1654.5 394.8V659M1695.3 394.8V659M1985.5 394.8V659"/><g class="m"><circle cx="1527.3" cy="520.3" r="4.2"/><circle cx="1532.3" cy="513.7" r="4.2"/><circle cx="1552.7" cy="556.4" r="4.2"/><circle cx="1557.8" cy="552.4" r="4.2"/><circle cx="1562.9" cy="578.9" r="4.2"/><circle cx="1568" cy="588.1" r="4.2"/><circle cx="1573.1" cy="552" r="4.2"/><circle cx="1578.2" cy="547.6" r="4.2"/><circle cx="1583.3" cy="539.2" r="4.2"/><circle cx="1588.4" cy="516.8" r="4.2"/><circle cx="1593.4" cy="547.6" r="4.2"/><circle cx="1598.5" cy="523.4" r="4.2"/><circle cx="1603.6" cy="524.3" r="4.2"/><circle cx="1608.7" cy="488.6" r="4.2"/><circle cx="1613.8" cy="496.5" r="4.2"/><circle cx="1618.9" cy="495.6" r="4.2"/><circle cx="1624" cy="493.4" r="4.2"/><circle cx="1629.1" cy="480.7" r="4.2"/><circle cx="1634.2" cy="481.1" r="4.2"/><circle cx="1639.3" cy="511.9" r="4.2"/><circle cx="1644.4" cy="538.8" r="4.2"/><circle cx="1649.5" cy="556.4" r="4.2"/><circle cx="1654.5" cy="498.3" r="4.2"/><circle cx="1659.6" cy="507.5" r="4.2"/><circle cx="1664.7" cy="520.3" r="4.2"/><circle cx="1669.8" cy="541" r="4.2"/><circle cx="1674.9" cy="547.6" r="4.2"/><circle cx="1680" cy="500" r="4.2"/><circle cx="1685.1" cy="543.2" r="4.2"/><circle cx="1690.2" cy="562.1" r="4.2"/><circle cx="1695.3" cy="523.4" r="4.2"/><circle cx="1700.4" cy="523.4" r="4.2"/><circle cx="1705.5" cy="531.3" r="4.2"/><circle cx="1710.5" cy="555.5" r="4.2"/><circle cx="1715.6" cy="525.1" r="4.2"/><circle cx="1720.7" cy="523.4" r="4.2"/><circle cx="1725.8" cy="496.5" r="4.2"/></g><path class="a" d="M1470.5 394.8H2005.8V659H1470.5"/><path d="M1471.2 394.8V659" stroke="#ccc" stroke-width="0.5" fill="none"/><path class="ad" d="M1471.2 394.8V659"/><path class="a" d="M1573.1 659v-6M1573.1 394.8v6M1674.9 659v-6M1674.9 394.8v6M1776.7 659v-6M1776.7 394.8v6M1878.6 659v-6M1878.6 394.8v6M1980.4 659v-6M1980.4 394.8v6M1471.2 618h6M2005.8 618h-6M1471.2 574h6M2005.8 574h-6M1471.2 530h6M2005.8 530h-6M1471.2 485.9h6M2005.8 485.9h-6M1471.2 441.9h6M2005.8 441.9h-6M1471.2 397.9h6M2005.8 397.9h-6"/><path class="n" d="M1547.9 393.2v3.2M1547.3 657.4v3.2M1649.8 393.2v3.2M1649.2 657.4v3.2M1654.8 393.2v3.2M1654.2 657.4v3.2M1695.6 393.2v3.2M1695 657.4v3.2M1985.8 393.2v3.2M1985.2 657.4v3.2"/><text class="t" transform="translate(1471.2 688.3) scale(0.962 1)" text-anchor="middle">0</text><text class="t" transform="translate(1573.1 688.3) scale(0.962 1)" text-anchor="middle">20</text><text class="t" transform="translate(1674.9 688.3) scale(0.962 1)" text-anchor="middle">40</text><text class="t" transform="translate(1776.7 688.3) scale(0.962 1)" text-anchor="middle">60</text><text class="t" transform="translate(1878.6 688.3) scale(0.962 1)" text-anchor="middle">80</text><text class="t" transform="translate(1980.4 688.3) scale(0.962 1)" text-anchor="middle">100</text><text class="t" transform="translate(1462.3 626) scale(0.962 1)" text-anchor="end">4</text><text class="t" transform="translate(1462.3 582) scale(0.962 1)" text-anchor="end">5</text><text class="t" transform="translate(1462.3 538) scale(0.962 1)" text-anchor="end">6</text><text class="t" transform="translate(1462.3 493.9) scale(0.962 1)" text-anchor="end">7</text><text class="t" transform="translate(1462.3 449.9) scale(0.962 1)" text-anchor="end">8</text><text class="t" transform="translate(1462.3 405.9) scale(0.962 1)" text-anchor="end">9</text><text class="tt" transform="translate(1738.5 387.6) scale(0.962 1)" text-anchor="middle">24</text><text class="t" style="font-size:21.74px" transform="translate(1979.2 425.5) scale(0.962 1)" text-anchor="end">GP 2E 114a/b</text>
<clipPath id="c25"><rect x="65.4" y="762.1" width="534.6" height="264.2"/></clipPath><g clip-path="url(#c25)"><path class="d" d="M75.6 1047.3L80.7 1002.9L85.8 986.1L90.9 965.9L95.9 966.8L101 958L106.1 962.8L111.2 954.9L116.3 961.5L121.4 933.3L126.5 970.7L131.6 980.4L136.7 943L141.8 889.7L146.9 834.7L152 856.7L157 808.2L162.1 864.6L167.2 907.3L172.3 951.4L177.4 888.4L182.5 888.4L187.6 798.1L192.7 796.8L197.8 765.5L202.9 730.3M213.1 851L218.1 827.6L223.2 883.5L228.3 767.3L233.4 832.9L238.5 795.5L243.6 868.1L248.7 803"/></g><path class="g" d="M127.3 762.1V1026.3M243.6 762.1V1026.3M248.7 762.1V1026.3M289.4 762.1V1026.3M579.6 762.1V1026.3"/><g class="m"><circle cx="80.7" cy="1002.9" r="4.2"/><circle cx="85.8" cy="986.1" r="4.2"/><circle cx="90.9" cy="965.9" r="4.2"/><circle cx="95.9" cy="966.8" r="4.2"/><circle cx="101" cy="958" r="4.2"/><circle cx="106.1" cy="962.8" r="4.2"/><circle cx="111.2" cy="954.9" r="4.2"/><circle cx="116.3" cy="961.5" r="4.2"/><circle cx="121.4" cy="933.3" r="4.2"/><circle cx="126.5" cy="970.7" r="4.2"/><circle cx="131.6" cy="980.4" r="4.2"/><circle cx="136.7" cy="943" r="4.2"/><circle cx="141.8" cy="889.7" r="4.2"/><circle cx="146.9" cy="834.7" r="4.2"/><circle cx="152" cy="856.7" r="4.2"/><circle cx="157" cy="808.2" r="4.2"/><circle cx="162.1" cy="864.6" r="4.2"/><circle cx="167.2" cy="907.3" r="4.2"/><circle cx="172.3" cy="951.4" r="4.2"/><circle cx="177.4" cy="888.4" r="4.2"/><circle cx="182.5" cy="888.4" r="4.2"/><circle cx="187.6" cy="798.1" r="4.2"/><circle cx="192.7" cy="796.8" r="4.2"/><circle cx="197.8" cy="765.5" r="4.2"/><circle cx="213.1" cy="851" r="4.2"/><circle cx="218.1" cy="827.6" r="4.2"/><circle cx="223.2" cy="883.5" r="4.2"/><circle cx="228.3" cy="767.3" r="4.2"/><circle cx="233.4" cy="832.9" r="4.2"/><circle cx="238.5" cy="795.5" r="4.2"/><circle cx="243.6" cy="868.1" r="4.2"/><circle cx="248.7" cy="803" r="4.2"/></g><path class="a" d="M64.7 762.1H600V1026.3H64.7"/><path d="M65.4 762.1V1026.3" stroke="#ccc" stroke-width="0.5" fill="none"/><path class="ad" d="M65.4 762.1V1026.3"/><path class="a" d="M167.2 1026.3v-6M167.2 762.1v6M269.1 1026.3v-6M269.1 762.1v6M370.9 1026.3v-6M370.9 762.1v6M472.7 1026.3v-6M472.7 762.1v6M574.5 1026.3v-6M574.5 762.1v6M65.4 990.1h6M600 990.1h-6M65.4 946.1h6M600 946.1h-6M65.4 902h6M600 902h-6M65.4 858h6M600 858h-6M65.4 814h6M600 814h-6M65.4 769.9h6M600 769.9h-6"/><path class="n" d="M142.1 760.5v3.2M141.5 1024.7v3.2M243.9 760.5v3.2M243.3 1024.7v3.2M249 760.5v3.2M248.4 1024.7v3.2M289.7 760.5v3.2M289.1 1024.7v3.2M579.9 760.5v3.2M579.3 1024.7v3.2"/><text class="t" transform="translate(65.4 1055.6) scale(0.962 1)" text-anchor="middle">0</text><text class="t" transform="translate(167.2 1055.6) scale(0.962 1)" text-anchor="middle">20</text><text class="t" transform="translate(269.1 1055.6) scale(0.962 1)" text-anchor="middle">40</text><text class="t" transform="translate(370.9 1055.6) scale(0.962 1)" text-anchor="middle">60</text><text class="t" transform="translate(472.7 1055.6) scale(0.962 1)" text-anchor="middle">80</text><text class="t" transform="translate(574.5 1055.6) scale(0.962 1)" text-anchor="middle">100</text><text class="t" transform="translate(56.5 998.1) scale(0.962 1)" text-anchor="end">4</text><text class="t" transform="translate(56.5 954.1) scale(0.962 1)" text-anchor="end">5</text><text class="t" transform="translate(56.5 910) scale(0.962 1)" text-anchor="end">6</text><text class="t" transform="translate(56.5 866) scale(0.962 1)" text-anchor="end">7</text><text class="t" transform="translate(56.5 822) scale(0.962 1)" text-anchor="end">8</text><text class="t" transform="translate(56.5 777.9) scale(0.962 1)" text-anchor="end">9</text><text class="tt" transform="translate(332.7 754.9) scale(0.962 1)" text-anchor="middle">25</text><text class="t" style="font-size:21.74px" transform="translate(573.4 792.8) scale(0.962 1)" text-anchor="end">GP/2E 669a/b</text><text class="l" transform="translate(34.3 894.2) rotate(-90) scale(0.962 1)" text-anchor="middle">Centrum Length (mm)</text>
<clipPath id="c26"><rect x="768.6" y="762.1" width="534.6" height="264.2"/></clipPath><g clip-path="url(#c26)"><path class="d" d="M839.9 864.6L845 896.3L850.1 904.7L855.2 915.2L860.2 854L865.3 877.4L870.4 839.1L875.5 862L880.6 840L885.7 840.4L890.8 845.2L895.9 891L901 840L906.1 882.7L911.2 875.6L916.3 874.7L921.3 949.6L926.4 962.8L931.5 912.2L936.6 943L941.7 858.4L946.8 862L951.9 927.6L957 943L962.1 885.7L967.2 866.4L972.3 949.6L977.3 918.8L982.4 917.9L987.5 908.2L992.6 969.4L997.7 947.4"/></g><path class="g" d="M829.7 762.1V1026.3M946.8 762.1V1026.3M951.9 762.1V1026.3M992.6 762.1V1026.3M1282.8 762.1V1026.3"/><g class="m"><circle cx="839.9" cy="864.6" r="4.2"/><circle cx="845" cy="896.3" r="4.2"/><circle cx="850.1" cy="904.7" r="4.2"/><circle cx="855.2" cy="915.2" r="4.2"/><circle cx="860.2" cy="854" r="4.2"/><circle cx="865.3" cy="877.4" r="4.2"/><circle cx="870.4" cy="839.1" r="4.2"/><circle cx="875.5" cy="862" r="4.2"/><circle cx="880.6" cy="840" r="4.2"/><circle cx="885.7" cy="840.4" r="4.2"/><circle cx="890.8" cy="845.2" r="4.2"/><circle cx="895.9" cy="891" r="4.2"/><circle cx="901" cy="840" r="4.2"/><circle cx="906.1" cy="882.7" r="4.2"/><circle cx="911.2" cy="875.6" r="4.2"/><circle cx="916.3" cy="874.7" r="4.2"/><circle cx="921.3" cy="949.6" r="4.2"/><circle cx="926.4" cy="962.8" r="4.2"/><circle cx="931.5" cy="912.2" r="4.2"/><circle cx="936.6" cy="943" r="4.2"/><circle cx="941.7" cy="858.4" r="4.2"/><circle cx="946.8" cy="862" r="4.2"/><circle cx="951.9" cy="927.6" r="4.2"/><circle cx="957" cy="943" r="4.2"/><circle cx="962.1" cy="885.7" r="4.2"/><circle cx="967.2" cy="866.4" r="4.2"/><circle cx="972.3" cy="949.6" r="4.2"/><circle cx="977.3" cy="918.8" r="4.2"/><circle cx="982.4" cy="917.9" r="4.2"/><circle cx="987.5" cy="908.2" r="4.2"/><circle cx="992.6" cy="969.4" r="4.2"/><circle cx="997.7" cy="947.4" r="4.2"/></g><path class="a" d="M767.9 762.1H1303.2V1026.3H767.9"/><path d="M768.6 762.1V1026.3" stroke="#ccc" stroke-width="0.5" fill="none"/><path class="ad" d="M768.6 762.1V1026.3"/><path class="a" d="M870.4 1026.3v-6M870.4 762.1v6M972.3 1026.3v-6M972.3 762.1v6M1074.1 1026.3v-6M1074.1 762.1v6M1175.9 1026.3v-6M1175.9 762.1v6M1277.7 1026.3v-6M1277.7 762.1v6M768.6 992.7h6M1303.2 992.7h-6M768.6 948.7h6M1303.2 948.7h-6M768.6 904.7h6M1303.2 904.7h-6M768.6 860.6h6M1303.2 860.6h-6M768.6 816.6h6M1303.2 816.6h-6M768.6 772.6h6M1303.2 772.6h-6"/><path class="n" d="M845.3 760.5v3.2M844.7 1024.7v3.2M947.1 760.5v3.2M946.5 1024.7v3.2M952.2 760.5v3.2M951.6 1024.7v3.2M992.9 760.5v3.2M992.3 1024.7v3.2M1283.1 760.5v3.2M1282.5 1024.7v3.2"/><text class="t" transform="translate(768.6 1055.6) scale(0.962 1)" text-anchor="middle">0</text><text class="t" transform="translate(870.4 1055.6) scale(0.962 1)" text-anchor="middle">20</text><text class="t" transform="translate(972.3 1055.6) scale(0.962 1)" text-anchor="middle">40</text><text class="t" transform="translate(1074.1 1055.6) scale(0.962 1)" text-anchor="middle">60</text><text class="t" transform="translate(1175.9 1055.6) scale(0.962 1)" text-anchor="middle">80</text><text class="t" transform="translate(1277.7 1055.6) scale(0.962 1)" text-anchor="middle">100</text><text class="t" transform="translate(759.7 1000.7) scale(0.962 1)" text-anchor="end">4</text><text class="t" transform="translate(759.7 956.7) scale(0.962 1)" text-anchor="end">5</text><text class="t" transform="translate(759.7 912.7) scale(0.962 1)" text-anchor="end">6</text><text class="t" transform="translate(759.7 868.6) scale(0.962 1)" text-anchor="end">7</text><text class="t" transform="translate(759.7 824.6) scale(0.962 1)" text-anchor="end">8</text><text class="t" transform="translate(759.7 780.6) scale(0.962 1)" text-anchor="end">9</text><text class="tt" transform="translate(1035.9 754.9) scale(0.962 1)" text-anchor="middle">26</text><text class="t" style="font-size:21.74px" transform="translate(1276.6 792.8) scale(0.962 1)" text-anchor="end">GP/2E 680</text>
<clipPath id="c27"><rect x="1471.2" y="762.1" width="534.6" height="264.2"/></clipPath><g clip-path="url(#c27)"><path class="d" d="M1476.3 939.5L1481.4 894.6L1486.5 905.6L1491.6 850.5L1496.7 850.1L1501.8 842.6L1506.9 855.8L1512 847.9L1517.1 930.2L1522.2 872.1L1527.3 907.8L1532.3 908.6L1537.4 961L1542.5 922.3L1547.6 951.8L1552.7 991L1557.8 976.5L1562.9 961L1568 945.2L1573.1 920.5L1578.2 892.8L1583.3 924.1L1588.4 862L1593.4 884.9L1598.5 876.1L1603.6 860.6L1608.7 884.4L1613.8 895L1618.9 866.8L1624 866.4L1629.1 840.4L1634.2 879.1L1639.3 897.2L1644.4 886.6L1649.5 917.9L1654.5 873.4L1659.6 873.4L1664.7 881.3L1669.8 875.2L1674.9 910.4L1680 898.1L1685.1 887.9L1690.2 831.6L1695.3 901.6L1700.4 889.7L1705.5 871.7L1710.5 868.6"/></g><path class="g" d="M1532.3 762.1V1026.3M1649.5 762.1V1026.3M1654.5 762.1V1026.3M1695.3 762.1V1026.3M1985.5 762.1V1026.3"/><g class="m"><circle cx="1476.3" cy="939.5" r="4.2"/><circle cx="1481.4" cy="894.6" r="4.2"/><circle cx="1486.5" cy="905.6" r="4.2"/><circle cx="1491.6" cy="850.5" r="4.2"/><circle cx="1496.7" cy="850.1" r="4.2"/><circle cx="1501.8" cy="842.6" r="4.2"/><circle cx="1506.9" cy="855.8" r="4.2"/><circle cx="1512" cy="847.9" r="4.2"/><circle cx="1517.1" cy="930.2" r="4.2"/><circle cx="1522.2" cy="872.1" r="4.2"/><circle cx="1527.3" cy="907.8" r="4.2"/><circle cx="1532.3" cy="908.6" r="4.2"/><circle cx="1537.4" cy="961" r="4.2"/><circle cx="1542.5" cy="922.3" r="4.2"/><circle cx="1547.6" cy="951.8" r="4.2"/><circle cx="1552.7" cy="991" r="4.2"/><circle cx="1557.8" cy="976.5" r="4.2"/><circle cx="1562.9" cy="961" r="4.2"/><circle cx="1568" cy="945.2" r="4.2"/><circle cx="1573.1" cy="920.5" r="4.2"/><circle cx="1578.2" cy="892.8" r="4.2"/><circle cx="1583.3" cy="924.1" r="4.2"/><circle cx="1588.4" cy="862" r="4.2"/><circle cx="1593.4" cy="884.9" r="4.2"/><circle cx="1598.5" cy="876.1" r="4.2"/><circle cx="1603.6" cy="860.6" r="4.2"/><circle cx="1608.7" cy="884.4" r="4.2"/><circle cx="1613.8" cy="895" r="4.2"/><circle cx="1618.9" cy="866.8" r="4.2"/><circle cx="1624" cy="866.4" r="4.2"/><circle cx="1629.1" cy="840.4" r="4.2"/><circle cx="1634.2" cy="879.1" r="4.2"/><circle cx="1639.3" cy="897.2" r="4.2"/><circle cx="1644.4" cy="886.6" r="4.2"/><circle cx="1649.5" cy="917.9" r="4.2"/><circle cx="1654.5" cy="873.4" r="4.2"/><circle cx="1659.6" cy="873.4" r="4.2"/><circle cx="1664.7" cy="881.3" r="4.2"/><circle cx="1669.8" cy="875.2" r="4.2"/><circle cx="1674.9" cy="910.4" r="4.2"/><circle cx="1680" cy="898.1" r="4.2"/><circle cx="1685.1" cy="887.9" r="4.2"/><circle cx="1690.2" cy="831.6" r="4.2"/><circle cx="1695.3" cy="901.6" r="4.2"/><circle cx="1700.4" cy="889.7" r="4.2"/><circle cx="1705.5" cy="871.7" r="4.2"/><circle cx="1710.5" cy="868.6" r="4.2"/></g><path class="a" d="M1470.5 762.1H2005.8V1026.3H1470.5"/><path d="M1471.2 762.1V1026.3" stroke="#ccc" stroke-width="0.5" fill="none"/><path class="ad" d="M1471.2 762.1V1026.3"/><path class="a" d="M1573.1 1026.3v-6M1573.1 762.1v6M1674.9 1026.3v-6M1674.9 762.1v6M1776.7 1026.3v-6M1776.7 762.1v6M1878.6 1026.3v-6M1878.6 762.1v6M1980.4 1026.3v-6M1980.4 762.1v6M1471.2 990.1h6M2005.8 990.1h-6M1471.2 946.1h6M2005.8 946.1h-6M1471.2 902h6M2005.8 902h-6M1471.2 858h6M2005.8 858h-6M1471.2 814h6M2005.8 814h-6M1471.2 769.9h6M2005.8 769.9h-6"/><path class="n" d="M1547.9 760.5v3.2M1547.3 1024.7v3.2M1649.8 760.5v3.2M1649.2 1024.7v3.2M1654.8 760.5v3.2M1654.2 1024.7v3.2M1695.6 760.5v3.2M1695 1024.7v3.2M1985.8 760.5v3.2M1985.2 1024.7v3.2"/><text class="t" transform="translate(1471.2 1055.6) scale(0.962 1)" text-anchor="middle">0</text><text class="t" transform="translate(1573.1 1055.6) scale(0.962 1)" text-anchor="middle">20</text><text class="t" transform="translate(1674.9 1055.6) scale(0.962 1)" text-anchor="middle">40</text><text class="t" transform="translate(1776.7 1055.6) scale(0.962 1)" text-anchor="middle">60</text><text class="t" transform="translate(1878.6 1055.6) scale(0.962 1)" text-anchor="middle">80</text><text class="t" transform="translate(1980.4 1055.6) scale(0.962 1)" text-anchor="middle">100</text><text class="t" transform="translate(1462.3 998.1) scale(0.962 1)" text-anchor="end">4</text><text class="t" transform="translate(1462.3 954.1) scale(0.962 1)" text-anchor="end">5</text><text class="t" transform="translate(1462.3 910) scale(0.962 1)" text-anchor="end">6</text><text class="t" transform="translate(1462.3 866) scale(0.962 1)" text-anchor="end">7</text><text class="t" transform="translate(1462.3 822) scale(0.962 1)" text-anchor="end">8</text><text class="t" transform="translate(1462.3 777.9) scale(0.962 1)" text-anchor="end">9</text><text class="tt" transform="translate(1738.5 754.9) scale(0.962 1)" text-anchor="middle">27</text><text class="t" style="font-size:22.05px" transform="translate(1979.2 792.8) scale(0.962 1)" text-anchor="end">PIMUZ A-III 192</text>
<clipPath id="c28"><rect x="63.6" y="1121.8" width="534.6" height="264.2"/></clipPath><g clip-path="url(#c28)"><path class="d" d="M216.3 1280.3L221.4 1264.5L226.5 1233.2M236.7 1295.7L241.8 1264.5L246.9 1303.2L252 1260.9L257.1 1233.2L262.2 1256.5L267.3 1287.4L272.3 1284.3L277.4 1241.1L282.5 1245.1L287.6 1225.3L292.7 1249.1L297.8 1233.2L302.9 1244.7L308 1233.2L313.1 1194"/></g><path class="g" d="M126.1 1121.8V1386M241.8 1121.8V1386M246.9 1121.8V1386M287.6 1121.8V1386M577.8 1121.8V1386"/><g class="m"><circle cx="216.3" cy="1280.3" r="4.2"/><circle cx="221.4" cy="1264.5" r="4.2"/><circle cx="226.5" cy="1233.2" r="4.2"/><circle cx="236.7" cy="1295.7" r="4.2"/><circle cx="241.8" cy="1264.5" r="4.2"/><circle cx="246.9" cy="1303.2" r="4.2"/><circle cx="252" cy="1260.9" r="4.2"/><circle cx="257.1" cy="1233.2" r="4.2"/><circle cx="262.2" cy="1256.5" r="4.2"/><circle cx="267.3" cy="1287.4" r="4.2"/><circle cx="272.3" cy="1284.3" r="4.2"/><circle cx="277.4" cy="1241.1" r="4.2"/><circle cx="282.5" cy="1245.1" r="4.2"/><circle cx="287.6" cy="1225.3" r="4.2"/><circle cx="292.7" cy="1249.1" r="4.2"/><circle cx="297.8" cy="1233.2" r="4.2"/><circle cx="302.9" cy="1244.7" r="4.2"/><circle cx="308" cy="1233.2" r="4.2"/><circle cx="313.1" cy="1194" r="4.2"/></g><path class="a" d="M62.9 1121.8H598.2V1386H62.9"/><path d="M63.6 1121.8V1386" stroke="#ccc" stroke-width="0.5" fill="none"/><path class="ad" d="M63.6 1121.8V1386"/><path class="a" d="M165.4 1386v-6M165.4 1121.8v6M267.3 1386v-6M267.3 1121.8v6M369.1 1386v-6M369.1 1121.8v6M470.9 1386v-6M470.9 1121.8v6M572.7 1386v-6M572.7 1121.8v6M63.6 1368.8h6M598.2 1368.8h-6M63.6 1324.8h6M598.2 1324.8h-6M63.6 1280.8h6M598.2 1280.8h-6M63.6 1236.7h6M598.2 1236.7h-6M63.6 1192.7h6M598.2 1192.7h-6M63.6 1148.7h6M598.2 1148.7h-6"/><path class="n" d="M140.3 1120.2v3.2M139.7 1384.4v3.2M242.1 1120.2v3.2M241.5 1384.4v3.2M247.2 1120.2v3.2M246.6 1384.4v3.2M287.9 1120.2v3.2M287.3 1384.4v3.2M578.1 1120.2v3.2M577.5 1384.4v3.2"/><text class="t" transform="translate(63.6 1415.3) scale(0.962 1)" text-anchor="middle">0</text><text class="t" transform="translate(165.4 1415.3) scale(0.962 1)" text-anchor="middle">20</text><text class="t" transform="translate(267.3 1415.3) scale(0.962 1)" text-anchor="middle">40</text><text class="t" transform="translate(369.1 1415.3) scale(0.962 1)" text-anchor="middle">60</text><text class="t" transform="translate(470.9 1415.3) scale(0.962 1)" text-anchor="middle">80</text><text class="t" transform="translate(572.7 1415.3) scale(0.962 1)" text-anchor="middle">100</text><text class="t" transform="translate(54.7 1376.8) scale(0.962 1)" text-anchor="end">4</text><text class="t" transform="translate(54.7 1332.8) scale(0.962 1)" text-anchor="end">5</text><text class="t" transform="translate(54.7 1288.8) scale(0.962 1)" text-anchor="end">6</text><text class="t" transform="translate(54.7 1244.7) scale(0.962 1)" text-anchor="end">7</text><text class="t" transform="translate(54.7 1200.7) scale(0.962 1)" text-anchor="end">8</text><text class="t" transform="translate(54.7 1156.7) scale(0.962 1)" text-anchor="end">9</text><text class="tt" transform="translate(330.9 1114.6) scale(0.962 1)" text-anchor="middle">28</text><text class="t" style="font-size:21.74px" transform="translate(571.6 1152.5) scale(0.962 1)" text-anchor="end">GP/2E-653a</text><text class="l" transform="translate(32.3 1253.9) rotate(-90) scale(0.962 1)" text-anchor="middle">Centrum Length (mm)</text>
<clipPath id="c29"><rect x="766.3" y="1121.8" width="534.6" height="264.2"/></clipPath><g clip-path="url(#c29)"><path class="d" d="M786.7 1370.1L791.8 1305.9L796.8 1315.5L801.9 1360L807 1242.9L812.1 1361.8L817.2 1323.9L822.3 1354.7L827.4 1361.8L832.5 1246L837.6 1260.9L842.7 1145.6L847.8 1252.1L852.9 1263.1L857.9 1257L863 1238L868.1 1238.9L873.2 1214.7L878.3 1240.7L883.4 1163.2L888.5 1223.5L893.6 1220L898.7 1190.1L903.8 1194.5L908.9 1218.7M924.1 1238.9L929.2 1196.2L934.3 1237.2L939.4 1227.5L944.5 1227.5L949.6 1243.8L954.7 1299.3L959.8 1190.9L964.9 1246.4L970 1206.3L975 1232.8L980.1 1285.2L985.2 1254.8L990.3 1160.5L995.4 1193.1L1000.5 1276.4L1005.6 1273.3L1010.7 1235.4L1015.8 1207.7L1020.9 1253.9L1026 1219.6L1031.1 1245.1L1036.1 1289.1L1041.2 1276.4L1046.3 1266.7L1051.4 1252.6L1056.5 1257.4L1061.6 1237.2L1066.7 1253.5L1071.8 1288.7L1076.9 1277.2L1082 1275L1087.1 1259.6L1092.2 1256.5L1097.2 1287.8L1102.3 1258.3L1107.4 1268"/></g><path class="g" d="M828.8 1121.8V1386M944.5 1121.8V1386M949.6 1121.8V1386M990.3 1121.8V1386M1280.5 1121.8V1386"/><g class="m"><circle cx="786.7" cy="1370.1" r="4.2"/><circle cx="791.8" cy="1305.9" r="4.2"/><circle cx="796.8" cy="1315.5" r="4.2"/><circle cx="801.9" cy="1360" r="4.2"/><circle cx="807" cy="1242.9" r="4.2"/><circle cx="812.1" cy="1361.8" r="4.2"/><circle cx="817.2" cy="1323.9" r="4.2"/><circle cx="822.3" cy="1354.7" r="4.2"/><circle cx="827.4" cy="1361.8" r="4.2"/><circle cx="832.5" cy="1246" r="4.2"/><circle cx="837.6" cy="1260.9" r="4.2"/><circle cx="842.7" cy="1145.6" r="4.2"/><circle cx="847.8" cy="1252.1" r="4.2"/><circle cx="852.9" cy="1263.1" r="4.2"/><circle cx="857.9" cy="1257" r="4.2"/><circle cx="863" cy="1238" r="4.2"/><circle cx="868.1" cy="1238.9" r="4.2"/><circle cx="873.2" cy="1214.7" r="4.2"/><circle cx="878.3" cy="1240.7" r="4.2"/><circle cx="883.4" cy="1163.2" r="4.2"/><circle cx="888.5" cy="1223.5" r="4.2"/><circle cx="893.6" cy="1220" r="4.2"/><circle cx="898.7" cy="1190.1" r="4.2"/><circle cx="903.8" cy="1194.5" r="4.2"/><circle cx="908.9" cy="1218.7" r="4.2"/><circle cx="924.1" cy="1238.9" r="4.2"/><circle cx="929.2" cy="1196.2" r="4.2"/><circle cx="934.3" cy="1237.2" r="4.2"/><circle cx="939.4" cy="1227.5" r="4.2"/><circle cx="944.5" cy="1227.5" r="4.2"/><circle cx="949.6" cy="1243.8" r="4.2"/><circle cx="954.7" cy="1299.3" r="4.2"/><circle cx="959.8" cy="1190.9" r="4.2"/><circle cx="964.9" cy="1246.4" r="4.2"/><circle cx="970" cy="1206.3" r="4.2"/><circle cx="975" cy="1232.8" r="4.2"/><circle cx="980.1" cy="1285.2" r="4.2"/><circle cx="985.2" cy="1254.8" r="4.2"/><circle cx="990.3" cy="1160.5" r="4.2"/><circle cx="995.4" cy="1193.1" r="4.2"/><circle cx="1000.5" cy="1276.4" r="4.2"/><circle cx="1005.6" cy="1273.3" r="4.2"/><circle cx="1010.7" cy="1235.4" r="4.2"/><circle cx="1015.8" cy="1207.7" r="4.2"/><circle cx="1020.9" cy="1253.9" r="4.2"/><circle cx="1026" cy="1219.6" r="4.2"/><circle cx="1031.1" cy="1245.1" r="4.2"/><circle cx="1036.1" cy="1289.1" r="4.2"/><circle cx="1041.2" cy="1276.4" r="4.2"/><circle cx="1046.3" cy="1266.7" r="4.2"/><circle cx="1051.4" cy="1252.6" r="4.2"/><circle cx="1056.5" cy="1257.4" r="4.2"/><circle cx="1061.6" cy="1237.2" r="4.2"/><circle cx="1066.7" cy="1253.5" r="4.2"/><circle cx="1071.8" cy="1288.7" r="4.2"/><circle cx="1076.9" cy="1277.2" r="4.2"/><circle cx="1082" cy="1275" r="4.2"/><circle cx="1087.1" cy="1259.6" r="4.2"/><circle cx="1092.2" cy="1256.5" r="4.2"/><circle cx="1097.2" cy="1287.8" r="4.2"/><circle cx="1102.3" cy="1258.3" r="4.2"/><circle cx="1107.4" cy="1268" r="4.2"/></g><path class="a" d="M765.5 1121.8H1300.9V1386H765.5"/><path d="M766.3 1121.8V1386" stroke="#ccc" stroke-width="0.5" fill="none"/><path class="ad" d="M766.3 1121.8V1386"/><path class="a" d="M868.1 1386v-6M868.1 1121.8v6M970 1386v-6M970 1121.8v6M1071.8 1386v-6M1071.8 1121.8v6M1173.6 1386v-6M1173.6 1121.8v6M1275.4 1386v-6M1275.4 1121.8v6M766.3 1371.9h6M1300.9 1371.9h-6M766.3 1327.9h6M1300.9 1327.9h-6M766.3 1283.8h6M1300.9 1283.8h-6M766.3 1239.8h6M1300.9 1239.8h-6M766.3 1195.8h6M1300.9 1195.8h-6M766.3 1151.7h6M1300.9 1151.7h-6"/><path class="n" d="M843 1120.2v3.2M842.4 1384.4v3.2M944.8 1120.2v3.2M944.2 1384.4v3.2M949.9 1120.2v3.2M949.3 1384.4v3.2M990.6 1120.2v3.2M990 1384.4v3.2M1280.8 1120.2v3.2M1280.2 1384.4v3.2"/><text class="t" transform="translate(766.3 1415.3) scale(0.962 1)" text-anchor="middle">0</text><text class="t" transform="translate(868.1 1415.3) scale(0.962 1)" text-anchor="middle">20</text><text class="t" transform="translate(970 1415.3) scale(0.962 1)" text-anchor="middle">40</text><text class="t" transform="translate(1071.8 1415.3) scale(0.962 1)" text-anchor="middle">60</text><text class="t" transform="translate(1173.6 1415.3) scale(0.962 1)" text-anchor="middle">80</text><text class="t" transform="translate(1275.4 1415.3) scale(0.962 1)" text-anchor="middle">100</text><text class="t" transform="translate(757.4 1379.9) scale(0.962 1)" text-anchor="end">4</text><text class="t" transform="translate(757.4 1335.9) scale(0.962 1)" text-anchor="end">5</text><text class="t" transform="translate(757.4 1291.8) scale(0.962 1)" text-anchor="end">6</text><text class="t" transform="translate(757.4 1247.8) scale(0.962 1)" text-anchor="end">7</text><text class="t" transform="translate(757.4 1203.8) scale(0.962 1)" text-anchor="end">8</text><text class="t" transform="translate(757.4 1159.7) scale(0.962 1)" text-anchor="end">9</text><text class="tt" transform="translate(1033.6 1114.6) scale(0.962 1)" text-anchor="middle">29</text><text class="t" style="font-size:22.05px" transform="translate(1274.3 1152.5) scale(0.962 1)" text-anchor="end">PIMUZ A-III 801</text>
<clipPath id="c30"><rect x="1468.9" y="1121.8" width="534.6" height="264.2"/></clipPath><g clip-path="url(#c30)"><path class="d" d="M1601.3 1222.6L1606.4 1215.2L1611.5 1242.9L1616.6 1220.9L1621.6 1231.9L1626.7 1239.4L1631.8 1209.9L1636.9 1240.7L1642 1259.6L1647.1 1222.2L1652.2 1304.1L1657.3 1274.2L1662.4 1263.6L1667.5 1276.8L1672.6 1231L1677.6 1262.3L1682.7 1263.6L1687.8 1323.5L1692.9 1227.5L1698 1266.2L1703.1 1256.1L1708.2 1282.1L1713.3 1294.4L1718.4 1267.6L1723.5 1257.4L1728.6 1227.9L1733.7 1272L1738.7 1242L1743.8 1258.3L1748.9 1247.3L1754 1253.9L1759.1 1249.1L1764.2 1250.8"/></g><path class="g" d="M1531.4 1121.8V1386M1647.1 1121.8V1386M1652.2 1121.8V1386M1692.9 1121.8V1386M1983.1 1121.8V1386"/><g class="m"><circle cx="1601.3" cy="1222.6" r="4.2"/><circle cx="1606.4" cy="1215.2" r="4.2"/><circle cx="1611.5" cy="1242.9" r="4.2"/><circle cx="1616.6" cy="1220.9" r="4.2"/><circle cx="1621.6" cy="1231.9" r="4.2"/><circle cx="1626.7" cy="1239.4" r="4.2"/><circle cx="1631.8" cy="1209.9" r="4.2"/><circle cx="1636.9" cy="1240.7" r="4.2"/><circle cx="1642" cy="1259.6" r="4.2"/><circle cx="1647.1" cy="1222.2" r="4.2"/><circle cx="1652.2" cy="1304.1" r="4.2"/><circle cx="1657.3" cy="1274.2" r="4.2"/><circle cx="1662.4" cy="1263.6" r="4.2"/><circle cx="1667.5" cy="1276.8" r="4.2"/><circle cx="1672.6" cy="1231" r="4.2"/><circle cx="1677.6" cy="1262.3" r="4.2"/><circle cx="1682.7" cy="1263.6" r="4.2"/><circle cx="1687.8" cy="1323.5" r="4.2"/><circle cx="1692.9" cy="1227.5" r="4.2"/><circle cx="1698" cy="1266.2" r="4.2"/><circle cx="1703.1" cy="1256.1" r="4.2"/><circle cx="1708.2" cy="1282.1" r="4.2"/><circle cx="1713.3" cy="1294.4" r="4.2"/><circle cx="1718.4" cy="1267.6" r="4.2"/><circle cx="1723.5" cy="1257.4" r="4.2"/><circle cx="1728.6" cy="1227.9" r="4.2"/><circle cx="1733.7" cy="1272" r="4.2"/><circle cx="1738.7" cy="1242" r="4.2"/><circle cx="1743.8" cy="1258.3" r="4.2"/><circle cx="1748.9" cy="1247.3" r="4.2"/><circle cx="1754" cy="1253.9" r="4.2"/><circle cx="1759.1" cy="1249.1" r="4.2"/><circle cx="1764.2" cy="1250.8" r="4.2"/></g><path class="a" d="M1468.2 1121.8H2003.5V1386H1468.2"/><path d="M1468.9 1121.8V1386" stroke="#ccc" stroke-width="0.5" fill="none"/><path class="ad" d="M1468.9 1121.8V1386"/><path class="a" d="M1570.7 1386v-6M1570.7 1121.8v6M1672.6 1386v-6M1672.6 1121.8v6M1774.4 1386v-6M1774.4 1121.8v6M1876.2 1386v-6M1876.2 1121.8v6M1978 1386v-6M1978 1121.8v6M1468.9 1344.6h6M2003.5 1344.6h-6M1468.9 1300.6h6M2003.5 1300.6h-6M1468.9 1256.5h6M2003.5 1256.5h-6M1468.9 1212.5h6M2003.5 1212.5h-6M1468.9 1168.5h6M2003.5 1168.5h-6M1468.9 1124.4h6M2003.5 1124.4h-6"/><path class="n" d="M1545.6 1120.2v3.2M1545 1384.4v3.2M1647.4 1120.2v3.2M1646.8 1384.4v3.2M1652.5 1120.2v3.2M1651.9 1384.4v3.2M1693.2 1120.2v3.2M1692.6 1384.4v3.2M1983.4 1120.2v3.2M1982.8 1384.4v3.2"/><text class="t" transform="translate(1468.9 1415.3) scale(0.962 1)" text-anchor="middle">0</text><text class="t" transform="translate(1570.7 1415.3) scale(0.962 1)" text-anchor="middle">20</text><text class="t" transform="translate(1672.6 1415.3) scale(0.962 1)" text-anchor="middle">40</text><text class="t" transform="translate(1774.4 1415.3) scale(0.962 1)" text-anchor="middle">60</text><text class="t" transform="translate(1876.2 1415.3) scale(0.962 1)" text-anchor="middle">80</text><text class="t" transform="translate(1978 1415.3) scale(0.962 1)" text-anchor="middle">100</text><text class="t" transform="translate(1460 1352.6) scale(0.962 1)" text-anchor="end">5</text><text class="t" transform="translate(1460 1308.6) scale(0.962 1)" text-anchor="end">6</text><text class="t" transform="translate(1460 1264.5) scale(0.962 1)" text-anchor="end">7</text><text class="t" transform="translate(1460 1220.5) scale(0.962 1)" text-anchor="end">8</text><text class="t" transform="translate(1460 1176.5) scale(0.962 1)" text-anchor="end">9</text><text class="t" transform="translate(1460 1132.4) scale(0.962 1)" text-anchor="end">10</text><text class="tt" transform="translate(1736.2 1114.6) scale(0.962 1)" text-anchor="middle">30</text><text class="t" style="font-size:21.74px" transform="translate(1976.9 1152.5) scale(0.962 1)" text-anchor="end">GP 660</text>
<clipPath id="c31"><rect x="63.6" y="1488.7" width="534.6" height="264.2"/></clipPath><g clip-path="url(#c31)"><path class="d" d="M190.9 1604.1L196 1617.3L201.1 1634.9L206.2 1590L211.3 1630L216.3 1675.4L221.4 1697L226.5 1583.4L231.6 1623.4L236.7 1623.4L241.8 1562.7L246.9 1595.3L252 1616.8L257.1 1581.2L262.2 1613.3L267.3 1612.4L272.3 1634.5L277.4 1611.1L282.5 1624.8L287.6 1656.9L292.7 1662.6"/></g><path class="g" d="M128.3 1488.7V1752.9M241.8 1488.7V1752.9M246.9 1488.7V1752.9M287.6 1488.7V1752.9M577.8 1488.7V1752.9"/><g class="m"><circle cx="190.9" cy="1604.1" r="4.2"/><circle cx="196" cy="1617.3" r="4.2"/><circle cx="201.1" cy="1634.9" r="4.2"/><circle cx="206.2" cy="1590" r="4.2"/><circle cx="211.3" cy="1630" r="4.2"/><circle cx="216.3" cy="1675.4" r="4.2"/><circle cx="221.4" cy="1697" r="4.2"/><circle cx="226.5" cy="1583.4" r="4.2"/><circle cx="231.6" cy="1623.4" r="4.2"/><circle cx="236.7" cy="1623.4" r="4.2"/><circle cx="241.8" cy="1562.7" r="4.2"/><circle cx="246.9" cy="1595.3" r="4.2"/><circle cx="252" cy="1616.8" r="4.2"/><circle cx="257.1" cy="1581.2" r="4.2"/><circle cx="262.2" cy="1613.3" r="4.2"/><circle cx="267.3" cy="1612.4" r="4.2"/><circle cx="272.3" cy="1634.5" r="4.2"/><circle cx="277.4" cy="1611.1" r="4.2"/><circle cx="282.5" cy="1624.8" r="4.2"/><circle cx="287.6" cy="1656.9" r="4.2"/><circle cx="292.7" cy="1662.6" r="4.2"/></g><path class="a" d="M62.9 1488.7H598.2V1752.9H62.9"/><path d="M63.6 1488.7V1752.9" stroke="#ccc" stroke-width="0.5" fill="none"/><path class="ad" d="M63.6 1488.7V1752.9"/><path class="a" d="M165.4 1752.9v-6M165.4 1488.7v6M267.3 1752.9v-6M267.3 1488.7v6M369.1 1752.9v-6M369.1 1488.7v6M470.9 1752.9v-6M470.9 1488.7v6M572.7 1752.9v-6M572.7 1488.7v6M63.6 1717.2h6M598.2 1717.2h-6M63.6 1673.2h6M598.2 1673.2h-6M63.6 1629.2h6M598.2 1629.2h-6M63.6 1585.1h6M598.2 1585.1h-6M63.6 1541.1h6M598.2 1541.1h-6M63.6 1497.1h6M598.2 1497.1h-6"/><path class="n" d="M140.3 1487.1v3.2M139.7 1751.3v3.2M242.1 1487.1v3.2M241.5 1751.3v3.2M247.2 1487.1v3.2M246.6 1751.3v3.2M287.9 1487.1v3.2M287.3 1751.3v3.2M578.1 1487.1v3.2M577.5 1751.3v3.2"/><text class="t" transform="translate(63.6 1782.2) scale(0.962 1)" text-anchor="middle">0</text><text class="t" transform="translate(165.4 1782.2) scale(0.962 1)" text-anchor="middle">20</text><text class="t" transform="translate(267.3 1782.2) scale(0.962 1)" text-anchor="middle">40</text><text class="t" transform="translate(369.1 1782.2) scale(0.962 1)" text-anchor="middle">60</text><text class="t" transform="translate(470.9 1782.2) scale(0.962 1)" text-anchor="middle">80</text><text class="t" transform="translate(572.7 1782.2) scale(0.962 1)" text-anchor="middle">100</text><text class="t" transform="translate(54.7 1725.2) scale(0.962 1)" text-anchor="end">5</text><text class="t" transform="translate(54.7 1681.2) scale(0.962 1)" text-anchor="end">6</text><text class="t" transform="translate(54.7 1637.2) scale(0.962 1)" text-anchor="end">7</text><text class="t" transform="translate(54.7 1593.1) scale(0.962 1)" text-anchor="end">8</text><text class="t" transform="translate(54.7 1549.1) scale(0.962 1)" text-anchor="end">9</text><text class="t" transform="translate(54.7 1505.1) scale(0.962 1)" text-anchor="end">10</text><text class="tt" transform="translate(330.9 1481.5) scale(0.962 1)" text-anchor="middle">31</text><text class="t" style="font-size:21.74px" transform="translate(571.6 1519.4) scale(0.962 1)" text-anchor="end">GP/2E-65</text><text class="l" style="font-size:24.34px" transform="translate(20.9 1620.8) rotate(-90) scale(0.962 1)" text-anchor="middle">Centrum Length (mm)</text>
<clipPath id="c32"><rect x="766.3" y="1488.7" width="534.6" height="264.2"/></clipPath><g clip-path="url(#c32)"><path class="d" d="M832.5 1651.2L837.6 1641.5L842.7 1651.6L847.8 1641.5L852.9 1637.1L857.9 1627.4L863 1608L868.1 1613.3L873.2 1622.6L878.3 1608.5L883.4 1608.5L888.5 1603.6L893.6 1608.5L898.7 1627.4L903.8 1594.8L908.9 1580.3L914 1608.5L919 1613.3L924.1 1618.2L929.2 1604.1L934.3 1632.2L939.4 1632.2L944.5 1651.2L949.6 1613.3L954.7 1608.5L959.8 1627.4L964.9 1622.6L970 1622.6"/></g><path class="g" d="M831 1488.7V1752.9M944.5 1488.7V1752.9M949.6 1488.7V1752.9M990.3 1488.7V1752.9M1280.5 1488.7V1752.9"/><g class="m"><circle cx="832.5" cy="1651.2" r="4.2"/><circle cx="837.6" cy="1641.5" r="4.2"/><circle cx="842.7" cy="1651.6" r="4.2"/><circle cx="847.8" cy="1641.5" r="4.2"/><circle cx="852.9" cy="1637.1" r="4.2"/><circle cx="857.9" cy="1627.4" r="4.2"/><circle cx="863" cy="1608" r="4.2"/><circle cx="868.1" cy="1613.3" r="4.2"/><circle cx="873.2" cy="1622.6" r="4.2"/><circle cx="878.3" cy="1608.5" r="4.2"/><circle cx="883.4" cy="1608.5" r="4.2"/><circle cx="888.5" cy="1603.6" r="4.2"/><circle cx="893.6" cy="1608.5" r="4.2"/><circle cx="898.7" cy="1627.4" r="4.2"/><circle cx="903.8" cy="1594.8" r="4.2"/><circle cx="908.9" cy="1580.3" r="4.2"/><circle cx="914" cy="1608.5" r="4.2"/><circle cx="919" cy="1613.3" r="4.2"/><circle cx="924.1" cy="1618.2" r="4.2"/><circle cx="929.2" cy="1604.1" r="4.2"/><circle cx="934.3" cy="1632.2" r="4.2"/><circle cx="939.4" cy="1632.2" r="4.2"/><circle cx="944.5" cy="1651.2" r="4.2"/><circle cx="949.6" cy="1613.3" r="4.2"/><circle cx="954.7" cy="1608.5" r="4.2"/><circle cx="959.8" cy="1627.4" r="4.2"/><circle cx="964.9" cy="1622.6" r="4.2"/><circle cx="970" cy="1622.6" r="4.2"/></g><path class="a" d="M765.5 1488.7H1300.9V1752.9H765.5"/><path d="M766.3 1488.7V1752.9" stroke="#ccc" stroke-width="0.5" fill="none"/><path class="ad" d="M766.3 1488.7V1752.9"/><path class="a" d="M868.1 1752.9v-6M868.1 1488.7v6M970 1752.9v-6M970 1488.7v6M1071.8 1752.9v-6M1071.8 1488.7v6M1173.6 1752.9v-6M1173.6 1488.7v6M1275.4 1752.9v-6M1275.4 1488.7v6M766.3 1721.2h6M1300.9 1721.2h-6M766.3 1677.2h6M1300.9 1677.2h-6M766.3 1633.1h6M1300.9 1633.1h-6M766.3 1589.1h6M1300.9 1589.1h-6M766.3 1545.1h6M1300.9 1545.1h-6M766.3 1501h6M1300.9 1501h-6"/><path class="n" d="M843 1487.1v3.2M842.4 1751.3v3.2M944.8 1487.1v3.2M944.2 1751.3v3.2M949.9 1487.1v3.2M949.3 1751.3v3.2M990.6 1487.1v3.2M990 1751.3v3.2M1280.8 1487.1v3.2M1280.2 1751.3v3.2"/><text class="t" transform="translate(766.3 1782.2) scale(0.962 1)" text-anchor="middle">0</text><text class="t" transform="translate(868.1 1782.2) scale(0.962 1)" text-anchor="middle">20</text><text class="t" transform="translate(970 1782.2) scale(0.962 1)" text-anchor="middle">40</text><text class="t" transform="translate(1071.8 1782.2) scale(0.962 1)" text-anchor="middle">60</text><text class="t" transform="translate(1173.6 1782.2) scale(0.962 1)" text-anchor="middle">80</text><text class="t" transform="translate(1275.4 1782.2) scale(0.962 1)" text-anchor="middle">100</text><text class="t" transform="translate(757.4 1729.2) scale(0.962 1)" text-anchor="end">5</text><text class="t" transform="translate(757.4 1685.2) scale(0.962 1)" text-anchor="end">6</text><text class="t" transform="translate(757.4 1641.1) scale(0.962 1)" text-anchor="end">7</text><text class="t" transform="translate(757.4 1597.1) scale(0.962 1)" text-anchor="end">8</text><text class="t" transform="translate(757.4 1553.1) scale(0.962 1)" text-anchor="end">9</text><text class="t" transform="translate(757.4 1509) scale(0.962 1)" text-anchor="end">10</text><text class="tt" transform="translate(1033.6 1481.5) scale(0.962 1)" text-anchor="middle">32</text><text class="t" style="font-size:21.74px" transform="translate(1274.3 1519.4) scale(0.962 1)" text-anchor="end">GP/2E 5764</text>
<clipPath id="c33"><rect x="1468.9" y="1488.7" width="534.6" height="264.2"/></clipPath><g clip-path="url(#c33)"><path class="d" d="M1606.4 1620.8L1611.5 1613.3L1616.6 1608L1621.6 1625.2L1626.7 1673.6L1631.8 1616L1636.9 1654.7L1642 1634L1647.1 1653.8L1652.2 1644.1L1657.3 1616L1662.4 1597L1667.5 1653.4L1672.6 1576.8L1677.6 1625.2L1682.7 1606.7L1687.8 1635.3L1692.9 1587.8L1698 1597L1703.1 1605.4L1708.2 1615.1L1713.3 1597"/></g><path class="g" d="M1533.6 1488.7V1752.9M1647.1 1488.7V1752.9M1652.2 1488.7V1752.9M1692.9 1488.7V1752.9M1983.1 1488.7V1752.9"/><g class="m"><circle cx="1606.4" cy="1620.8" r="4.2"/><circle cx="1611.5" cy="1613.3" r="4.2"/><circle cx="1616.6" cy="1608" r="4.2"/><circle cx="1621.6" cy="1625.2" r="4.2"/><circle cx="1626.7" cy="1673.6" r="4.2"/><circle cx="1631.8" cy="1616" r="4.2"/><circle cx="1636.9" cy="1654.7" r="4.2"/><circle cx="1642" cy="1634" r="4.2"/><circle cx="1647.1" cy="1653.8" r="4.2"/><circle cx="1652.2" cy="1644.1" r="4.2"/><circle cx="1657.3" cy="1616" r="4.2"/><circle cx="1662.4" cy="1597" r="4.2"/><circle cx="1667.5" cy="1653.4" r="4.2"/><circle cx="1672.6" cy="1576.8" r="4.2"/><circle cx="1677.6" cy="1625.2" r="4.2"/><circle cx="1682.7" cy="1606.7" r="4.2"/><circle cx="1687.8" cy="1635.3" r="4.2"/><circle cx="1692.9" cy="1587.8" r="4.2"/><circle cx="1698" cy="1597" r="4.2"/><circle cx="1703.1" cy="1605.4" r="4.2"/><circle cx="1708.2" cy="1615.1" r="4.2"/><circle cx="1713.3" cy="1597" r="4.2"/></g><path class="a" d="M1468.2 1488.7H2003.5V1752.9H1468.2"/><path d="M1468.9 1488.7V1752.9" stroke="#ccc" stroke-width="0.5" fill="none"/><path class="ad" d="M1468.9 1488.7V1752.9"/><path class="a" d="M1570.7 1752.9v-6M1570.7 1488.7v6M1672.6 1752.9v-6M1672.6 1488.7v6M1774.4 1752.9v-6M1774.4 1488.7v6M1876.2 1752.9v-6M1876.2 1488.7v6M1978 1752.9v-6M1978 1488.7v6M1468.9 1741.9h6M2003.5 1741.9h-6M1468.9 1697.9h6M2003.5 1697.9h-6M1468.9 1653.8h6M2003.5 1653.8h-6M1468.9 1609.8h6M2003.5 1609.8h-6M1468.9 1565.8h6M2003.5 1565.8h-6M1468.9 1521.7h6M2003.5 1521.7h-6"/><path class="n" d="M1545.6 1487.1v3.2M1545 1751.3v3.2M1647.4 1487.1v3.2M1646.8 1751.3v3.2M1652.5 1487.1v3.2M1651.9 1751.3v3.2M1693.2 1487.1v3.2M1692.6 1751.3v3.2M1983.4 1487.1v3.2M1982.8 1751.3v3.2"/><text class="t" transform="translate(1468.9 1782.2) scale(0.962 1)" text-anchor="middle">0</text><text class="t" transform="translate(1570.7 1782.2) scale(0.962 1)" text-anchor="middle">20</text><text class="t" transform="translate(1672.6 1782.2) scale(0.962 1)" text-anchor="middle">40</text><text class="t" transform="translate(1774.4 1782.2) scale(0.962 1)" text-anchor="middle">60</text><text class="t" transform="translate(1876.2 1782.2) scale(0.962 1)" text-anchor="middle">80</text><text class="t" transform="translate(1978 1782.2) scale(0.962 1)" text-anchor="middle">100</text><text class="t" transform="translate(1460 1749.9) scale(0.962 1)" text-anchor="end">5</text><text class="t" transform="translate(1460 1705.9) scale(0.962 1)" text-anchor="end">6</text><text class="t" transform="translate(1460 1661.8) scale(0.962 1)" text-anchor="end">7</text><text class="t" transform="translate(1460 1617.8) scale(0.962 1)" text-anchor="end">8</text><text class="t" transform="translate(1460 1573.8) scale(0.962 1)" text-anchor="end">9</text><text class="t" transform="translate(1460 1529.7) scale(0.962 1)" text-anchor="end">10</text><text class="tt" transform="translate(1736.2 1481.5) scale(0.962 1)" text-anchor="middle">33</text><text class="t" style="font-size:21.74px" transform="translate(1976.9 1519.4) scale(0.962 1)" text-anchor="end">GP 26639</text><text class="l" transform="translate(1732.7 1830.2) scale(0.962 1)" text-anchor="middle">Vertebra Number</text>
<clipPath id="c34"><rect x="63.6" y="1856.3" width="534.6" height="264.2"/></clipPath><g clip-path="url(#c34)"><path class="d" d="M272.3 1983.1L277.4 1942.6L282.5 2038.2L287.6 2007.8L292.7 2007.3L297.8 2038.2L302.9 1962.9L308 2031.6L313.1 2008.7L318.2 2002.9L323.3 1995.9L328.4 1984L333.4 1993.2L338.5 1974.3L343.6 1939.5L348.7 1959.8L353.8 1992.4L358.9 1920.1L364 1928.1L369.1 1965.1L374.2 1910.9L379.3 1953.6L384.4 2061.1L389.5 2009.5L394.5 2091.4L399.6 1996.3L404.7 1903.9L409.8 2006L414.9 2020.5L420 1958.5L425.1 1948.3L430.2 1946.6L435.3 1963.7L440.4 1946.6L445.5 1971.2L450.5 1988.4L455.6 1981.8L460.7 1968.1L465.8 1980.9L470.9 1987.5L476 1964.6L481.1 2057.5L486.2 2017.5L491.3 2075.6L496.4 2065.9"/></g><path class="g" d="M129 1856.3V2120.5M241.8 1856.3V2120.5M246.9 1856.3V2120.5M287.6 1856.3V2120.5M577.8 1856.3V2120.5"/><g class="m"><circle cx="272.3" cy="1983.1" r="4.2"/><circle cx="277.4" cy="1942.6" r="4.2"/><circle cx="282.5" cy="2038.2" r="4.2"/><circle cx="287.6" cy="2007.8" r="4.2"/><circle cx="292.7" cy="2007.3" r="4.2"/><circle cx="297.8" cy="2038.2" r="4.2"/><circle cx="302.9" cy="1962.9" r="4.2"/><circle cx="308" cy="2031.6" r="4.2"/><circle cx="313.1" cy="2008.7" r="4.2"/><circle cx="318.2" cy="2002.9" r="4.2"/><circle cx="323.3" cy="1995.9" r="4.2"/><circle cx="328.4" cy="1984" r="4.2"/><circle cx="333.4" cy="1993.2" r="4.2"/><circle cx="338.5" cy="1974.3" r="4.2"/><circle cx="343.6" cy="1939.5" r="4.2"/><circle cx="348.7" cy="1959.8" r="4.2"/><circle cx="353.8" cy="1992.4" r="4.2"/><circle cx="358.9" cy="1920.1" r="4.2"/><circle cx="364" cy="1928.1" r="4.2"/><circle cx="369.1" cy="1965.1" r="4.2"/><circle cx="374.2" cy="1910.9" r="4.2"/><circle cx="379.3" cy="1953.6" r="4.2"/><circle cx="384.4" cy="2061.1" r="4.2"/><circle cx="389.5" cy="2009.5" r="4.2"/><circle cx="394.5" cy="2091.4" r="4.2"/><circle cx="399.6" cy="1996.3" r="4.2"/><circle cx="404.7" cy="1903.9" r="4.2"/><circle cx="409.8" cy="2006" r="4.2"/><circle cx="414.9" cy="2020.5" r="4.2"/><circle cx="420" cy="1958.5" r="4.2"/><circle cx="425.1" cy="1948.3" r="4.2"/><circle cx="430.2" cy="1946.6" r="4.2"/><circle cx="435.3" cy="1963.7" r="4.2"/><circle cx="440.4" cy="1946.6" r="4.2"/><circle cx="445.5" cy="1971.2" r="4.2"/><circle cx="450.5" cy="1988.4" r="4.2"/><circle cx="455.6" cy="1981.8" r="4.2"/><circle cx="460.7" cy="1968.1" r="4.2"/><circle cx="465.8" cy="1980.9" r="4.2"/><circle cx="470.9" cy="1987.5" r="4.2"/><circle cx="476" cy="1964.6" r="4.2"/><circle cx="481.1" cy="2057.5" r="4.2"/><circle cx="486.2" cy="2017.5" r="4.2"/><circle cx="491.3" cy="2075.6" r="4.2"/><circle cx="496.4" cy="2065.9" r="4.2"/></g><path class="a" d="M62.9 1856.3H598.2V2120.5H62.9"/><path d="M63.6 1856.3V2120.5" stroke="#ccc" stroke-width="0.5" fill="none"/><path class="ad" d="M63.6 1856.3V2120.5"/><path class="a" d="M165.4 2120.5v-6M165.4 1856.3v6M267.3 2120.5v-6M267.3 1856.3v6M369.1 2120.5v-6M369.1 1856.3v6M470.9 2120.5v-6M470.9 1856.3v6M572.7 2120.5v-6M572.7 1856.3v6M63.6 2108.6h6M598.2 2108.6h-6M63.6 2064.6h6M598.2 2064.6h-6M63.6 2020.5h6M598.2 2020.5h-6M63.6 1976.5h6M598.2 1976.5h-6M63.6 1932.5h6M598.2 1932.5h-6M63.6 1888.4h6M598.2 1888.4h-6"/><path class="n" d="M140.3 1854.7v3.2M139.7 2118.9v3.2M242.1 1854.7v3.2M241.5 2118.9v3.2M247.2 1854.7v3.2M246.6 2118.9v3.2M287.9 1854.7v3.2M287.3 2118.9v3.2M578.1 1854.7v3.2M577.5 2118.9v3.2"/><text class="t" transform="translate(63.6 2149.8) scale(0.962 1)" text-anchor="middle">0</text><text class="t" transform="translate(165.4 2149.8) scale(0.962 1)" text-anchor="middle">20</text><text class="t" transform="translate(267.3 2149.8) scale(0.962 1)" text-anchor="middle">40</text><text class="t" transform="translate(369.1 2149.8) scale(0.962 1)" text-anchor="middle">60</text><text class="t" transform="translate(470.9 2149.8) scale(0.962 1)" text-anchor="middle">80</text><text class="t" transform="translate(572.7 2149.8) scale(0.962 1)" text-anchor="middle">100</text><text class="t" transform="translate(54.7 2116.6) scale(0.962 1)" text-anchor="end">5</text><text class="t" transform="translate(54.7 2072.6) scale(0.962 1)" text-anchor="end">6</text><text class="t" transform="translate(54.7 2028.5) scale(0.962 1)" text-anchor="end">7</text><text class="t" transform="translate(54.7 1984.5) scale(0.962 1)" text-anchor="end">8</text><text class="t" transform="translate(54.7 1940.5) scale(0.962 1)" text-anchor="end">9</text><text class="t" transform="translate(54.7 1896.4) scale(0.962 1)" text-anchor="end">10</text><text class="tt" transform="translate(330.9 1849.1) scale(0.962 1)" text-anchor="middle">34</text><text class="t" style="font-size:21.74px" transform="translate(571.9 1886.8) scale(0.962 1)" text-anchor="end">GP 683</text><text class="l" style="font-size:24.75px" transform="translate(20.9 1988.4) rotate(-90) scale(0.962 1)" text-anchor="middle">Centrum Length (mm)</text><text class="l" transform="translate(329.4 2180) scale(0.962 1)" text-anchor="middle">Vertebra Number</text>
<clipPath id="c35"><rect x="766.3" y="1856.3" width="534.6" height="264.2"/></clipPath><g clip-path="url(#c35)"><path class="d" d="M868.1 2054.9L873.2 2014.4L878.3 1952.7L883.4 1998.1L888.5 2030.2L893.6 1995L898.7 2031.1L903.8 1996.8L908.9 1986.6L914 2043.4L919 1956.7L924.1 1980.5L929.2 1973.4L934.3 2011.7L939.4 2025.8L944.5 1967.7L949.6 1975.6L954.7 1965.5L959.8 1964.6L964.9 1916.6L970 1927.2L975 1951.4L980.1 1970.3L985.2 2024.1L990.3 1985.3L995.4 1991.9"/></g><path class="g" d="M831.7 1856.3V2120.5M944.5 1856.3V2120.5M949.6 1856.3V2120.5M990.3 1856.3V2120.5M1280.5 1856.3V2120.5"/><g class="m"><circle cx="868.1" cy="2054.9" r="4.2"/><circle cx="873.2" cy="2014.4" r="4.2"/><circle cx="878.3" cy="1952.7" r="4.2"/><circle cx="883.4" cy="1998.1" r="4.2"/><circle cx="888.5" cy="2030.2" r="4.2"/><circle cx="893.6" cy="1995" r="4.2"/><circle cx="898.7" cy="2031.1" r="4.2"/><circle cx="903.8" cy="1996.8" r="4.2"/><circle cx="908.9" cy="1986.6" r="4.2"/><circle cx="914" cy="2043.4" r="4.2"/><circle cx="919" cy="1956.7" r="4.2"/><circle cx="924.1" cy="1980.5" r="4.2"/><circle cx="929.2" cy="1973.4" r="4.2"/><circle cx="934.3" cy="2011.7" r="4.2"/><circle cx="939.4" cy="2025.8" r="4.2"/><circle cx="944.5" cy="1967.7" r="4.2"/><circle cx="949.6" cy="1975.6" r="4.2"/><circle cx="954.7" cy="1965.5" r="4.2"/><circle cx="959.8" cy="1964.6" r="4.2"/><circle cx="964.9" cy="1916.6" r="4.2"/><circle cx="970" cy="1927.2" r="4.2"/><circle cx="975" cy="1951.4" r="4.2"/><circle cx="980.1" cy="1970.3" r="4.2"/><circle cx="985.2" cy="2024.1" r="4.2"/><circle cx="990.3" cy="1985.3" r="4.2"/><circle cx="995.4" cy="1991.9" r="4.2"/></g><path class="a" d="M765.5 1856.3H1300.9V2120.5H765.5"/><path d="M766.3 1856.3V2120.5" stroke="#ccc" stroke-width="0.5" fill="none"/><path class="ad" d="M766.3 1856.3V2120.5"/><path class="a" d="M868.1 2120.5v-6M868.1 1856.3v6M970 2120.5v-6M970 1856.3v6M1071.8 2120.5v-6M1071.8 1856.3v6M1173.6 2120.5v-6M1173.6 1856.3v6M1275.4 2120.5v-6M1275.4 1856.3v6M766.3 2110.8h6M1300.9 2110.8h-6M766.3 2066.8h6M1300.9 2066.8h-6M766.3 2022.7h6M1300.9 2022.7h-6M766.3 1978.7h6M1300.9 1978.7h-6M766.3 1934.7h6M1300.9 1934.7h-6M766.3 1890.6h6M1300.9 1890.6h-6"/><path class="n" d="M843 1854.7v3.2M842.4 2118.9v3.2M944.8 1854.7v3.2M944.2 2118.9v3.2M949.9 1854.7v3.2M949.3 2118.9v3.2M990.6 1854.7v3.2M990 2118.9v3.2M1280.8 1854.7v3.2M1280.2 2118.9v3.2"/><text class="t" transform="translate(766.3 2149.8) scale(0.962 1)" text-anchor="middle">0</text><text class="t" transform="translate(868.1 2149.8) scale(0.962 1)" text-anchor="middle">20</text><text class="t" transform="translate(970 2149.8) scale(0.962 1)" text-anchor="middle">40</text><text class="t" transform="translate(1071.8 2149.8) scale(0.962 1)" text-anchor="middle">60</text><text class="t" transform="translate(1173.6 2149.8) scale(0.962 1)" text-anchor="middle">80</text><text class="t" transform="translate(1275.4 2149.8) scale(0.962 1)" text-anchor="middle">100</text><text class="t" transform="translate(757.4 2118.8) scale(0.962 1)" text-anchor="end">5</text><text class="t" transform="translate(757.4 2074.8) scale(0.962 1)" text-anchor="end">6</text><text class="t" transform="translate(757.4 2030.7) scale(0.962 1)" text-anchor="end">7</text><text class="t" transform="translate(757.4 1986.7) scale(0.962 1)" text-anchor="end">8</text><text class="t" transform="translate(757.4 1942.7) scale(0.962 1)" text-anchor="end">9</text><text class="t" transform="translate(757.4 1898.6) scale(0.962 1)" text-anchor="end">10</text><text class="tt" transform="translate(1033.6 1849.1) scale(0.962 1)" text-anchor="middle">35</text><text class="t" transform="translate(1273.1 1888) scale(0.962 1)" text-anchor="end">GP/2E 5737</text><text class="l" transform="translate(1032.1 2180) scale(0.962 1)" text-anchor="middle">Vertebra Number</text>
<path fill="#fff" d="M250 1052.4h140v20h-140zM950 1050.5h42v22h-42zM1655 1050.6h140v22h-140z"/>
<g fill="#fff" stroke="none"><path d="M735.3 627.0L736.2 625.2L738.6 624.5L746.2 625.8L756.8 626.6L764.1 625.8L772.2 625.0L780.3 625.0L786.8 626.2L799.0 629.1L811.2 631.5L823.3 633.0L831.5 633.3L839.6 632.8L847.7 631.0L855.8 628.9L863.9 627.5L875.7 626.7L886.3 626.5L893.3 626.9L900.3 627.7L907.4 628.8L914.4 629.7L921.5 630.4L928.5 630.6L935.5 630.9L940.4 631.4L947.6 631.0L954.6 629.3L961.7 627.2L968.7 625.1L975.7 623.0L982.8 621.3L989.8 620.0L996.8 619.4L1003.9 619.3L1010.9 619.7L1017.9 620.6L1025.0 621.8L1032.0 623.4L1039.0 625.1L1046.1 627.1L1055.2 629.4L1070.3 633.9L1085.5 638.8L1100.6 642.6L1115.8 644.8L1130.9 645.8L1146.1 645.8L1161.2 644.1L1176.4 641.1L1191.5 637.7L1206.7 635.0L1221.8 632.7L1237.0 631.2L1252.1 630.6L1267.3 630.6L1280.9 631.2L1267.3 632.4L1252.1 633.9L1237.0 635.8L1221.8 638.0L1206.7 641.1L1191.5 645.2L1180.9 648.6L1171.8 652.4L1161.2 654.7L1146.1 655.9L1130.9 656.1L1115.8 655.5L1100.6 654.4L1085.5 652.9L1070.3 650.9L1055.2 648.6L1046.1 647.1L1039.0 646.2L1032.0 645.4L1025.0 644.6L1017.9 643.9L1010.9 643.4L1003.9 643.2L996.8 643.8L989.8 645.2L982.8 646.4L946.9 651.2L944.0 651.0L939.7 652.0L935.5 653.8L929.9 656.9L925.0 659.4L920.0 661.2L914.4 662.2L907.4 662.8L900.3 663.3L893.3 663.8L885.6 664.3L843.6 658.7L839.6 657.5L835.5 655.5L829.8 652.2L825.0 649.4L819.3 647.7L811.2 646.5L803.1 645.3L790.9 643.7L780.3 642.1L774.6 640.4L769.8 638.6L764.9 637.6L756.8 636.4L746.2 635.2L738.9 633.5L736.5 631.9L735.4 629.2L735.3 627.0Z"/><path d="M948.6 640.1L954.6 641.7L961.7 643.8L968.7 645.2L975.7 646.2L982.8 646.4L989.8 645.6L996.8 644.9L1000.3 645.5L1006.0 646.6L1009.5 646.9L1009.5 646.9L1010.2 648.0L1007.4 648.7L1007.4 650.8L1009.5 652.6L1007.4 652.2L1005.6 653.3L1004.6 655.0L1006.3 656.4L1003.9 656.1L1001.1 656.8L999.6 657.8L1000.3 659.2L1000.3 659.2L996.8 658.5L993.3 658.9L990.5 660.3L986.3 660.7L982.1 660.3L977.8 658.2L973.6 655.7L969.4 654.0L963.8 652.6L958.1 652.2L951.1 651.7L946.9 651.2L943.4 650.1L941.3 648.0L940.6 645.2L941.3 642.4L943.4 640.2Z"/><path d="M841.3 649.2L844.1 648.5L846.9 648.1L851.1 648.7L854.6 649.2L858.1 651.0L865.2 655.2L872.2 659.4L879.2 662.9L885.6 665.0L888.4 669.9L888.4 669.9L886.3 671.6L882.8 672.2L879.2 671.4L873.6 670.1L869.4 668.9L865.2 666.4L859.5 662.2L854.6 658.3L851.8 657.1L847.6 658.0L842.7 657.6L839.8 656.2L841.3 649.2Z"/></g><g fill="none" stroke="#111" stroke-width="1.35" stroke-linejoin="round" stroke-linecap="round"><path d="M735.3 627.0C735.4 626.7 735.7 625.6 736.2 625.2C736.8 624.8 736.9 624.4 738.6 624.5C740.3 624.6 743.2 625.4 746.2 625.8C749.2 626.1 753.8 626.6 756.8 626.6C759.8 626.6 761.5 626.1 764.1 625.8C766.7 625.5 769.5 625.1 772.2 625.0C774.9 624.9 777.9 624.8 780.3 625.0C782.7 625.2 783.7 625.5 786.8 626.2C789.9 626.9 794.9 628.2 799.0 629.1C803.1 630.0 807.2 630.9 811.2 631.5C815.2 632.1 819.9 632.7 823.3 633.0C826.7 633.3 828.8 633.3 831.5 633.3C834.2 633.3 836.9 633.2 839.6 632.8C842.3 632.4 845.0 631.6 847.7 631.0C850.4 630.4 853.1 629.5 855.8 628.9C858.5 628.3 860.6 627.9 863.9 627.5C867.2 627.1 872.0 626.9 875.7 626.7C879.4 626.5 883.4 626.5 886.3 626.5C889.2 626.5 891.0 626.7 893.3 626.9C895.6 627.1 897.9 627.4 900.3 627.7C902.6 628.0 905.0 628.5 907.4 628.8C909.8 629.1 912.0 629.4 914.4 629.7C916.8 630.0 919.1 630.2 921.5 630.4C923.9 630.5 926.2 630.5 928.5 630.6C930.8 630.7 933.5 630.8 935.5 630.9C937.5 631.0 938.4 631.4 940.4 631.4C942.4 631.4 945.2 631.4 947.6 631.0C950.0 630.6 952.2 629.9 954.6 629.3C957.0 628.7 959.4 627.9 961.7 627.2C964.1 626.5 966.4 625.8 968.7 625.1C971.0 624.4 973.4 623.6 975.7 623.0C978.1 622.4 980.4 621.8 982.8 621.3C985.1 620.8 987.5 620.3 989.8 620.0C992.1 619.7 994.4 619.5 996.8 619.4C999.1 619.3 1001.5 619.2 1003.9 619.3C1006.2 619.3 1008.6 619.5 1010.9 619.7C1013.2 619.9 1015.5 620.2 1017.9 620.6C1020.2 621.0 1022.6 621.3 1025.0 621.8C1027.3 622.3 1029.7 622.8 1032.0 623.4C1034.3 624.0 1036.7 624.5 1039.0 625.1C1041.3 625.7 1043.4 626.4 1046.1 627.1C1048.8 627.8 1051.2 628.3 1055.2 629.4C1059.2 630.5 1065.2 632.3 1070.3 633.9C1075.3 635.5 1080.5 637.3 1085.5 638.8C1090.5 640.2 1095.5 641.6 1100.6 642.6C1105.6 643.6 1110.8 644.3 1115.8 644.8C1120.8 645.3 1125.9 645.6 1130.9 645.8C1136.0 646.0 1141.0 646.1 1146.1 645.8C1151.1 645.5 1156.2 644.9 1161.2 644.1C1166.2 643.3 1171.4 642.2 1176.4 641.1C1181.5 640.0 1186.5 638.7 1191.5 637.7C1196.5 636.7 1201.7 635.8 1206.7 635.0C1211.8 634.2 1216.8 633.3 1221.8 632.7C1226.8 632.1 1232.0 631.6 1237.0 631.2C1242.0 630.9 1247.0 630.7 1252.1 630.6C1257.1 630.5 1262.5 630.5 1267.3 630.6C1272.1 630.7 1278.6 631.1 1280.9 631.2"/><path d="M1280.9 631.2C1278.6 631.4 1272.1 632.0 1267.3 632.4C1262.5 632.8 1257.1 633.3 1252.1 633.9C1247.0 634.5 1242.0 635.1 1237.0 635.8C1232.0 636.5 1226.8 637.1 1221.8 638.0C1216.8 638.9 1211.8 639.9 1206.7 641.1C1201.7 642.3 1195.8 644.0 1191.5 645.2C1187.2 646.5 1184.2 647.4 1180.9 648.6C1177.6 649.8 1175.1 651.4 1171.8 652.4C1168.5 653.4 1165.5 654.1 1161.2 654.7C1156.9 655.3 1151.1 655.7 1146.1 655.9C1141.0 656.1 1136.0 656.2 1130.9 656.1C1125.9 656.0 1120.8 655.8 1115.8 655.5C1110.8 655.2 1105.6 654.8 1100.6 654.4C1095.5 654.0 1090.5 653.5 1085.5 652.9C1080.5 652.3 1075.3 651.6 1070.3 650.9C1065.2 650.2 1059.2 649.2 1055.2 648.6C1051.2 648.0 1048.8 647.5 1046.1 647.1C1043.4 646.7 1041.3 646.5 1039.0 646.2C1036.7 645.9 1034.3 645.7 1032.0 645.4C1029.7 645.1 1027.3 644.9 1025.0 644.6C1022.6 644.4 1020.2 644.1 1017.9 643.9C1015.5 643.7 1013.2 643.5 1010.9 643.4C1008.6 643.3 1006.2 643.1 1003.9 643.2C1001.5 643.3 999.1 643.5 996.8 643.8C994.4 644.1 992.1 644.8 989.8 645.2C987.5 645.6 984.0 646.2 982.8 646.4"/><path d="M948.6 640.1C949.6 640.4 952.4 641.1 954.6 641.7C956.8 642.3 959.4 643.2 961.7 643.8C964.1 644.4 966.4 644.8 968.7 645.2C971.0 645.6 973.4 646.0 975.7 646.2C978.1 646.4 980.4 646.5 982.8 646.4C985.1 646.3 987.5 645.9 989.8 645.6C992.1 645.4 995.0 644.9 996.8 644.9C998.5 644.9 998.8 645.2 1000.3 645.5C1001.8 645.8 1004.5 646.4 1006.0 646.6C1007.5 646.8 1008.9 646.9 1009.5 646.9"/><path d="M943.4 640.2C943.0 640.6 941.8 641.6 941.3 642.4C940.8 643.2 940.6 644.3 940.6 645.2C940.6 646.1 940.8 647.2 941.3 648.0C941.8 648.8 942.5 649.6 943.4 650.1C944.3 650.6 945.6 650.9 946.9 651.2C948.2 651.5 949.2 651.5 951.1 651.7C953.0 651.9 956.0 652.1 958.1 652.2C960.2 652.4 961.9 652.3 963.8 652.6C965.7 652.9 967.8 653.5 969.4 654.0C971.0 654.5 972.2 655.0 973.6 655.7C975.0 656.4 976.4 657.4 977.8 658.2C979.2 659.0 980.7 659.9 982.1 660.3C983.5 660.7 984.9 660.7 986.3 660.7C987.7 660.7 989.3 660.6 990.5 660.3C991.7 660.0 992.2 659.2 993.3 658.9C994.3 658.6 995.6 658.5 996.8 658.5C998.0 658.5 999.7 659.1 1000.3 659.2"/><path d="M885.6 664.3C886.9 664.2 890.8 664.0 893.3 663.8C895.8 663.6 897.9 663.5 900.3 663.3C902.6 663.1 905.0 663.0 907.4 662.8C909.8 662.6 912.3 662.5 914.4 662.2C916.5 661.9 918.2 661.7 920.0 661.2C921.8 660.7 923.4 660.1 925.0 659.4C926.6 658.7 928.1 657.8 929.9 656.9C931.6 656.0 933.9 654.6 935.5 653.8C937.1 653.0 938.3 652.5 939.7 652.0C941.1 651.5 942.8 651.1 944.0 651.0C945.2 650.9 946.4 651.2 946.9 651.2"/><path d="M735.3 627.0C735.3 627.4 735.2 628.4 735.4 629.2C735.6 630.0 735.9 631.2 736.5 631.9C737.1 632.6 737.3 633.0 738.9 633.5C740.5 634.0 743.2 634.7 746.2 635.2C749.2 635.7 753.7 636.0 756.8 636.4C759.9 636.8 762.7 637.2 764.9 637.6C767.1 638.0 768.2 638.1 769.8 638.6C771.4 639.1 772.9 639.8 774.6 640.4C776.4 641.0 777.6 641.5 780.3 642.1C783.0 642.7 787.1 643.2 790.9 643.7C794.7 644.2 799.7 644.8 803.1 645.3C806.5 645.8 808.5 646.1 811.2 646.5C813.9 646.9 817.0 647.2 819.3 647.7C821.6 648.2 823.2 648.6 825.0 649.4C826.8 650.1 828.0 651.2 829.8 652.2C831.5 653.2 833.9 654.6 835.5 655.5C837.1 656.4 838.2 657.0 839.6 657.5C841.0 658.0 842.9 658.5 843.6 658.7"/><path d="M841.3 649.2C841.8 649.1 843.2 648.7 844.1 648.5C845.0 648.3 845.7 648.1 846.9 648.1C848.1 648.1 849.8 648.5 851.1 648.7C852.4 648.9 853.4 648.8 854.6 649.2C855.8 649.6 856.3 650.0 858.1 651.0C859.9 652.0 862.9 653.8 865.2 655.2C867.6 656.6 869.9 658.1 872.2 659.4C874.5 660.7 877.0 662.0 879.2 662.9C881.4 663.8 884.1 663.8 885.6 665.0C887.1 666.2 887.9 669.1 888.4 669.9"/><path d="M840.9 646.6C841.4 646.5 843.0 646.0 844.1 646.0C845.2 646.0 846.6 646.4 847.2 646.7C847.8 647.0 848.0 647.6 847.9 647.8C847.8 648.0 847.1 648.0 846.9 648.1"/><path d="M839.8 656.2C840.3 656.4 841.4 657.3 842.7 657.6C844.0 657.9 846.1 658.1 847.6 658.0C849.1 657.9 850.6 657.1 851.8 657.1C853.0 657.1 853.3 657.4 854.6 658.3C855.9 659.1 857.7 660.9 859.5 662.2C861.3 663.6 863.6 665.3 865.2 666.4C866.9 667.5 868.0 668.3 869.4 668.9C870.8 669.5 872.0 669.7 873.6 670.1C875.2 670.5 877.7 671.0 879.2 671.4C880.7 671.8 881.6 672.2 882.8 672.2C884.0 672.2 885.4 672.0 886.3 671.6C887.2 671.2 888.0 670.2 888.4 669.9"/><path d="M842.5 658.4C843.6 658.5 846.8 659.0 849.0 659.3C851.2 659.6 854.4 660.1 855.5 660.3"/><path d="M736.8 628.6C738.2 628.9 742.0 629.6 745.0 630.2C748.0 630.8 751.7 631.4 755.0 632.0C758.3 632.6 761.9 633.2 765.0 633.6C768.1 634.0 772.3 634.3 773.8 634.4"/><path d="M1000.3 659.2L999.6 657.8L1001.1 656.8L1003.9 656.1L1006.3 656.4L1004.6 655.0L1005.6 653.3L1007.4 652.2L1009.5 652.6L1007.4 650.8L1007.4 648.7L1010.2 648.0L1009.5 646.9"/><path d="M971.5 656.8L972.2 658.5"/><path stroke-width="0.9" d="M875.0 664.4 L887.2 669.0M875.2 666.6 L887.6 671.0M873.6 668.6 L885.0 672.4"/><path stroke-width="1.1" d="M737.5 627.1L738.4 629.8L739.3 627.4L740.2 630.1L741.1 627.7L742.0 630.4L742.9 628.0L743.8 630.7L744.7 628.3L745.6 631.0L746.5 628.6L747.4 631.3L748.3 628.9L749.2 631.6L750.1 629.2L751.0 631.9L751.9 629.5L752.8 632.2L753.7 629.8L754.6 632.5L755.5 630.1L756.4 632.8L757.3 630.4L758.2 633.1L759.1 630.7L760.0 633.4L760.9 631.0L761.8 633.7L762.7 631.3L763.6 634.0L764.5 631.6L765.4 634.3"/></g><circle cx="772.9" cy="629.3" r="1.7" fill="#111"/>
</svg></body></html>
